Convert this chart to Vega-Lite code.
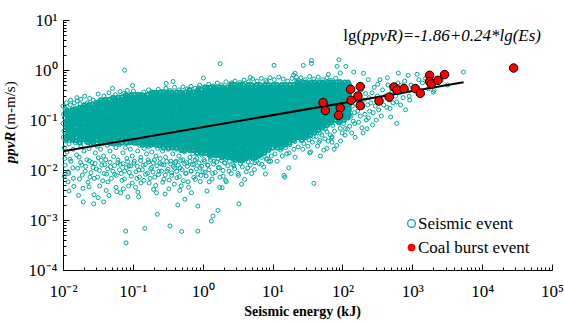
{
"$schema": "https://vega.github.io/schema/vega-lite/v6.json",
"width": 489, "height": 250,
"autosize": {"type": "none"},
"padding": {"left": 63, "top": 20, "right": 12, "bottom": 53},
"background": "white",
"config": {"view": {"stroke": null}, "font": "Liberation Serif", "legend": {"labelFont": "Liberation Serif", "labelFontSize": 17, "labelColor": "black"}},
"datasets": {
"seis": [
{"e":0.010,"p":0.19},{"e":0.010,"p":0.085},{"e":0.0101,"p":0.045},{"e":0.0102,"p":0.13},{"e":0.0103,"p":0.06},{"e":0.0104,"p":0.028},{"e":0.0105,"p":0.11},{"e":0.0106,"p":0.017},{"e":0.0108,"p":0.16},{"e":0.011,"p":0.07},{"e":0.011,"p":0.038},{"e":0.0112,"p":0.095},{"e":0.0114,"p":0.023},{"e":0.0115,"p":0.145},{"e":0.0117,"p":0.052},{"e":0.012,"p":0.0085},{"e":0.012,"p":0.12},{"e":0.0122,"p":0.033},{"e":0.0125,"p":0.078},{"e":0.0127,"p":0.2},{"e":0.013,"p":0.043},{"e":0.013,"p":0.015},{"e":0.0133,"p":0.1},{"e":0.0136,"p":0.062},{"e":0.014,"p":0.026},{"e":0.014,"p":0.135},{"e":0.0143,"p":0.0047},{"e":0.0145,"p":0.082},{"e":0.0148,"p":0.175},{"e":0.015,"p":0.035},{"e":0.0152,"p":0.056},{"e":0.0155,"p":0.11},{"e":0.0157,"p":0.02},{"e":0.0104,"p":0.0075},{"e":0.0118,"p":0.0058},{"e":0.0138,"p":0.011},{"e":0.0145,"p":0.22},{"e":0.018,"p":0.26},{"e":0.0108,"p":0.17},
{"e":0.016,"p":0.24},{"e":0.016,"p":0.09},{"e":0.0162,"p":0.04},{"e":0.0165,"p":0.15},{"e":0.0167,"p":0.065},{"e":0.017,"p":0.018},{"e":0.017,"p":0.12},{"e":0.0173,"p":0.05},{"e":0.0176,"p":0.21},{"e":0.018,"p":0.075},{"e":0.018,"p":0.03},{"e":0.0183,"p":0.105},{"e":0.0186,"p":0.0125},{"e":0.019,"p":0.17},{"e":0.019,"p":0.057},{"e":0.0193,"p":0.0043},{"e":0.0196,"p":0.088},{"e":0.02,"p":0.024},{"e":0.02,"p":0.14},{"e":0.0204,"p":0.046},{"e":0.0208,"p":0.0095},{"e":0.021,"p":0.068},{"e":0.0213,"p":0.2},{"e":0.0217,"p":0.036},{"e":0.022,"p":0.115},{"e":0.022,"p":0.016},{"e":0.0224,"p":0.08},{"e":0.0228,"p":0.0057},{"e":0.023,"p":0.155},{"e":0.0233,"p":0.053},{"e":0.0236,"p":0.027},{"e":0.024,"p":0.098},{"e":0.0243,"p":0.0072},{"e":0.0246,"p":0.13},{"e":0.0248,"p":0.042},{"e":0.0195,"p":0.0023},{"e":0.0225,"p":0.22},{"e":0.0172,"p":0.0066},
{"e":0.025,"p":0.19},{"e":0.025,"p":0.072},{"e":0.0255,"p":0.032},{"e":0.026,"p":0.125},{"e":0.026,"p":0.014},{"e":0.0265,"p":0.055},{"e":0.027,"p":0.25},{"e":0.027,"p":0.088},{"e":0.0275,"p":0.04},{"e":0.028,"p":0.16},{"e":0.028,"p":0.0068},{"e":0.0285,"p":0.065},{"e":0.029,"p":0.022},{"e":0.029,"p":0.11},{"e":0.0296,"p":0.047},{"e":0.03,"p":0.2},{"e":0.03,"p":0.0105},{"e":0.0305,"p":0.078},{"e":0.031,"p":0.03},{"e":0.031,"p":0.14},{"e":0.0316,"p":0.058},{"e":0.032,"p":0.0175},{"e":0.0322,"p":0.095},{"e":0.0328,"p":0.23},{"e":0.033,"p":0.037},{"e":0.0335,"p":0.0048},{"e":0.034,"p":0.12},{"e":0.034,"p":0.068},{"e":0.0345,"p":0.026},{"e":0.035,"p":0.17},{"e":0.0355,"p":0.05},{"e":0.036,"p":0.0125},{"e":0.036,"p":0.085},{"e":0.0366,"p":0.21},{"e":0.037,"p":0.034},{"e":0.0375,"p":0.105},{"e":0.038,"p":0.06},{"e":0.038,"p":0.019},{"e":0.0386,"p":0.145},{"e":0.039,"p":0.0085},{"e":0.0392,"p":0.044},{"e":0.0278,"p":0.0032},{"e":0.0318,"p":0.0028},{"e":0.0275,"p":0.0021},{"e":0.038,"p":0.0023},
{"e":0.04,"p":0.26},{"e":0.04,"p":0.1},{"e":0.041,"p":0.045},{"e":0.041,"p":0.016},{"e":0.042,"p":0.17},{"e":0.042,"p":0.07},{"e":0.043,"p":0.031},{"e":0.044,"p":0.125},{"e":0.044,"p":0.0058},{"e":0.045,"p":0.055},{"e":0.045,"p":0.21},{"e":0.046,"p":0.085},{"e":0.047,"p":0.024},{"e":0.047,"p":0.145},{"e":0.048,"p":0.04},{"e":0.048,"p":0.0115},{"e":0.049,"p":0.1},{"e":0.05,"p":0.065},{"e":0.05,"p":0.28},{"e":0.051,"p":0.43},{"e":0.051,"p":0.034},{"e":0.052,"p":0.18},{"e":0.052,"p":0.076},{"e":0.053,"p":0.0185},{"e":0.054,"p":0.118},{"e":0.054,"p":0.05},{"e":0.055,"p":0.0082},{"e":0.056,"p":0.23},{"e":0.056,"p":0.09},{"e":0.057,"p":0.028},{"e":0.058,"p":0.15},{"e":0.058,"p":0.06},{"e":0.059,"p":0.0037},{"e":0.06,"p":0.043},{"e":0.06,"p":0.11},{"e":0.061,"p":0.014},{"e":0.062,"p":0.2},{"e":0.062,"p":0.073},{"e":0.063,"p":0.037},{"e":0.0455,"p":0.0031},{"e":0.0575,"p":0.0045},
{"e":0.063,"p":0.18},{"e":0.064,"p":0.075},{"e":0.064,"p":0.032},{"e":0.065,"p":0.12},{"e":0.066,"p":0.013},{"e":0.066,"p":0.052},{"e":0.067,"p":0.26},{"e":0.068,"p":0.09},{"e":0.069,"p":0.04},{"e":0.07,"p":0.15},{"e":0.07,"p":0.0062},{"e":0.071,"p":0.065},{"e":0.072,"p":0.022},{"e":0.073,"p":0.105},{"e":0.074,"p":0.046},{"e":0.075,"p":0.21},{"e":0.076,"p":0.99},{"e":0.076,"p":0.0095},{"e":0.077,"p":0.08},{"e":0.078,"p":0.028},{"e":0.079,"p":0.0006},{"e":0.08,"p":0.00035},{"e":0.08,"p":0.135},{"e":0.081,"p":0.058},{"e":0.082,"p":0.017},{"e":0.083,"p":0.39},{"e":0.083,"p":0.095},{"e":0.084,"p":0.036},{"e":0.085,"p":0.175},{"e":0.086,"p":0.07},{"e":0.087,"p":0.0048},{"e":0.088,"p":0.012},{"e":0.089,"p":0.115},{"e":0.09,"p":0.05},{"e":0.091,"p":0.24},{"e":0.092,"p":0.026},{"e":0.093,"p":0.085},{"e":0.094,"p":0.155},{"e":0.095,"p":0.0075},{"e":0.096,"p":0.042},{"e":0.097,"p":0.062},{"e":0.098,"p":0.019},{"e":0.099,"p":0.49},{"e":0.0995,"p":0.13},{"e":0.067,"p":0.0035},{"e":0.085,"p":0.0029},
{"e":0.1,"p":0.2},{"e":0.1,"p":0.08},{"e":0.102,"p":0.035},{"e":0.104,"p":0.125},{"e":0.105,"p":0.015},{"e":0.106,"p":0.055},{"e":0.108,"p":0.27},{"e":0.11,"p":0.095},{"e":0.11,"p":0.043},{"e":0.112,"p":0.16},{"e":0.114,"p":0.0068},{"e":0.115,"p":0.067},{"e":0.117,"p":0.024},{"e":0.118,"p":0.11},{"e":0.12,"p":0.05},{"e":0.12,"p":0.22},{"e":0.122,"p":0.01},{"e":0.124,"p":0.085},{"e":0.125,"p":0.031},{"e":0.127,"p":0.14},{"e":0.128,"p":0.06},{"e":0.13,"p":0.018},{"e":0.132,"p":0.1},{"e":0.133,"p":0.3},{"e":0.135,"p":0.039},{"e":0.136,"p":0.072},{"e":0.138,"p":0.18},{"e":0.14,"p":0.0125},{"e":0.141,"p":0.047},{"e":0.143,"p":0.12},{"e":0.145,"p":0.027},{"e":0.146,"p":0.088},{"e":0.148,"p":0.00068},{"e":0.149,"p":0.24},{"e":0.15,"p":0.057},{"e":0.152,"p":0.0082},{"e":0.153,"p":0.15},{"e":0.155,"p":0.034},{"e":0.156,"p":0.076},{"e":0.157,"p":0.021},{"e":0.109,"p":0.0045},{"e":0.131,"p":0.0055},{"e":0.118,"p":0.0036},
{"e":0.158,"p":0.26},{"e":0.16,"p":0.1},{"e":0.161,"p":0.045},{"e":0.163,"p":0.165},{"e":0.165,"p":0.016},{"e":0.166,"p":0.068},{"e":0.168,"p":0.029},{"e":0.17,"p":0.125},{"e":0.171,"p":0.0055},{"e":0.173,"p":0.053},{"e":0.175,"p":0.21},{"e":0.177,"p":0.088},{"e":0.179,"p":0.038},{"e":0.18,"p":0.0105},{"e":0.182,"p":0.14},{"e":0.184,"p":0.062},{"e":0.186,"p":0.023},{"e":0.188,"p":0.3},{"e":0.19,"p":0.078},{"e":0.192,"p":0.045},{"e":0.194,"p":0.18},{"e":0.196,"p":0.014},{"e":0.198,"p":0.11},{"e":0.2,"p":0.033},{"e":0.202,"p":0.058},{"e":0.204,"p":0.24},{"e":0.206,"p":0.0072},{"e":0.208,"p":0.095},{"e":0.21,"p":0.04},{"e":0.212,"p":0.15},{"e":0.214,"p":0.019},{"e":0.216,"p":0.07},{"e":0.218,"p":0.0035},{"e":0.22,"p":0.36},{"e":0.222,"p":0.12},{"e":0.224,"p":0.0013},{"e":0.226,"p":0.05},{"e":0.228,"p":0.027},{"e":0.23,"p":0.2},{"e":0.233,"p":0.085},{"e":0.236,"p":0.0095},{"e":0.238,"p":0.034},{"e":0.24,"p":0.13},{"e":0.243,"p":0.063},{"e":0.246,"p":0.017},{"e":0.249,"p":0.27},
{"e":0.25,"p":0.2},{"e":0.252,"p":0.085},{"e":0.255,"p":0.037},{"e":0.258,"p":0.14},{"e":0.26,"p":0.013},{"e":0.263,"p":0.06},{"e":0.266,"p":0.024},{"e":0.27,"p":0.28},{"e":0.272,"p":0.1},{"e":0.275,"p":0.047},{"e":0.278,"p":0.0065},{"e":0.28,"p":0.17},{"e":0.283,"p":0.072},{"e":0.286,"p":0.031},{"e":0.29,"p":0.12},{"e":0.293,"p":0.018},{"e":0.296,"p":0.055},{"e":0.3,"p":0.54},{"e":0.3,"p":0.23},{"e":0.303,"p":0.088},{"e":0.307,"p":0.0095},{"e":0.31,"p":0.04},{"e":0.313,"p":0.15},{"e":0.316,"p":0.065},{"e":0.32,"p":0.026},{"e":0.323,"p":0.11},{"e":0.327,"p":0.0042},{"e":0.33,"p":0.19},{"e":0.333,"p":0.078},{"e":0.336,"p":0.035},{"e":0.34,"p":0.00076},{"e":0.343,"p":0.13},{"e":0.346,"p":0.05},{"e":0.35,"p":0.015},{"e":0.353,"p":0.3},{"e":0.357,"p":0.095},{"e":0.36,"p":0.0078},{"e":0.363,"p":0.043},{"e":0.367,"p":0.165},{"e":0.37,"p":0.068},{"e":0.373,"p":0.021},{"e":0.376,"p":0.59},{"e":0.38,"p":0.115},{"e":0.383,"p":0.029},{"e":0.387,"p":0.25},{"e":0.39,"p":0.058},{"e":0.394,"p":0.011},{"e":0.397,"p":0.082},
{"e":0.4,"p":0.21},{"e":0.403,"p":0.09},{"e":0.406,"p":0.039},{"e":0.41,"p":0.15},{"e":0.413,"p":0.015},{"e":0.417,"p":0.064},{"e":0.42,"p":0.026},{"e":0.424,"p":0.12},{"e":0.428,"p":0.007},{"e":0.432,"p":0.052},{"e":0.436,"p":0.27},{"e":0.44,"p":0.002},{"e":0.44,"p":0.1},{"e":0.444,"p":0.044},{"e":0.448,"p":0.18},{"e":0.452,"p":0.077},{"e":0.456,"p":0.019},{"e":0.46,"p":0.135},{"e":0.464,"p":0.033},{"e":0.468,"p":0.06},{"e":0.472,"p":0.011},{"e":0.476,"p":0.23},{"e":0.48,"p":0.088},{"e":0.484,"p":0.048},{"e":0.488,"p":0.16},{"e":0.492,"p":0.0048},{"e":0.496,"p":0.07},{"e":0.5,"p":0.00059},{"e":0.5,"p":0.028},{"e":0.505,"p":0.11},{"e":0.51,"p":0.04},{"e":0.515,"p":0.2},{"e":0.52,"p":0.016},{"e":0.525,"p":0.082},{"e":0.53,"p":0.055},{"e":0.535,"p":0.3},{"e":0.54,"p":0.125},{"e":0.545,"p":0.023},{"e":0.55,"p":0.065},{"e":0.556,"p":0.0026},{"e":0.56,"p":0.17},{"e":0.565,"p":0.036},{"e":0.57,"p":0.0085},{"e":0.575,"p":0.095},{"e":0.58,"p":0.046},{"e":0.585,"p":0.25},{"e":0.59,"p":0.014},{"e":0.595,"p":0.14},{"e":0.6,"p":0.075},{"e":0.606,"p":0.03},{"e":0.612,"p":0.19},{"e":0.618,"p":0.0058},{"e":0.624,"p":0.105},{"e":0.63,"p":0.05},
{"e":0.63,"p":0.22},{"e":0.636,"p":0.087},{"e":0.642,"p":0.038},{"e":0.648,"p":0.145},{"e":0.654,"p":0.018},{"e":0.66,"p":0.062},{"e":0.666,"p":0.027},{"e":0.672,"p":0.115},{"e":0.678,"p":0.0095},{"e":0.684,"p":0.05},{"e":0.69,"p":0.28},{"e":0.696,"p":0.1},{"e":0.702,"p":0.042},{"e":0.71,"p":0.175},{"e":0.716,"p":0.072},{"e":0.722,"p":0.021},{"e":0.73,"p":0.13},{"e":0.736,"p":0.033},{"e":0.742,"p":0.058},{"e":0.75,"p":0.013},{"e":0.756,"p":0.24},{"e":0.762,"p":0.09},{"e":0.77,"p":0.047},{"e":0.776,"p":0.16},{"e":0.784,"p":0.0065},{"e":0.79,"p":0.078},{"e":0.8,"p":0.03},{"e":0.806,"p":0.12},{"e":0.814,"p":0.055},{"e":0.82,"p":0.017},{"e":0.83,"p":0.21},{"e":0.836,"p":0.085},{"e":0.845,"p":0.039},{"e":0.85,"p":0.0006},{"e":0.852,"p":0.0019},{"e":0.86,"p":0.14},{"e":0.868,"p":0.068},{"e":0.876,"p":0.024},{"e":0.884,"p":0.31},{"e":0.892,"p":0.105},{"e":0.9,"p":0.045},{"e":0.91,"p":0.011},{"e":0.918,"p":0.185},{"e":0.926,"p":0.075},{"e":0.934,"p":0.034},{"e":0.942,"p":0.0078},{"e":0.95,"p":0.125},{"e":0.958,"p":0.06},{"e":0.966,"p":0.02},{"e":0.975,"p":0.26},{"e":0.984,"p":0.095},{"e":0.992,"p":0.041},{"e":0.87,"p":0.44},
{"e":1.0,"p":0.2},{"e":1.01,"p":0.08},{"e":1.02,"p":0.036},{"e":1.03,"p":0.15},{"e":1.04,"p":0.016},{"e":1.05,"p":0.058},{"e":1.06,"p":0.025},{"e":1.07,"p":0.12},{"e":1.08,"p":0.009},{"e":1.09,"p":0.048},{"e":1.1,"p":0.27},{"e":1.11,"p":0.1},{"e":1.12,"p":0.043},{"e":1.13,"p":0.18},{"e":1.14,"p":0.068},{"e":1.15,"p":0.021},{"e":1.16,"p":0.135},{"e":1.17,"p":0.031},{"e":1.18,"p":0.056},{"e":1.19,"p":0.0125},{"e":1.2,"p":0.23},{"e":1.21,"p":0.088},{"e":1.22,"p":0.046},{"e":1.23,"p":0.16},{"e":1.24,"p":0.0058},{"e":1.25,"p":0.075},{"e":1.26,"p":0.028},{"e":1.27,"p":0.11},{"e":1.28,"p":0.052},{"e":1.29,"p":0.018},{"e":1.3,"p":0.33},{"e":1.31,"p":0.2},{"e":1.32,"p":0.082},{"e":1.33,"p":0.00095},{"e":1.34,"p":0.038},{"e":1.35,"p":0.14},{"e":1.36,"p":0.064},{"e":1.37,"p":0.023},{"e":1.38,"p":0.095},{"e":1.39,"p":0.0085},{"e":1.4,"p":0.0012},{"e":1.41,"p":0.25},{"e":1.42,"p":0.044},{"e":1.43,"p":0.12},{"e":1.44,"p":0.07},{"e":1.45,"p":0.015},{"e":1.46,"p":0.17},{"e":1.47,"p":0.033},{"e":1.48,"p":0.058},{"e":1.5,"p":0.105},{"e":1.51,"p":0.027},{"e":1.52,"p":0.22},{"e":1.54,"p":0.079},{"e":1.55,"p":0.04},{"e":1.57,"p":0.13},{"e":1.02,"p":0.69},
{"e":1.58,"p":0.21},{"e":1.6,"p":0.085},{"e":1.62,"p":0.037},{"e":1.64,"p":0.15},{"e":1.65,"p":0.00155},{"e":1.66,"p":0.017},{"e":1.68,"p":0.062},{"e":1.7,"p":0.026},{"e":1.72,"p":0.12},{"e":1.74,"p":0.011},{"e":1.76,"p":0.05},{"e":1.78,"p":0.28},{"e":1.78,"p":1.34},{"e":1.8,"p":0.1},{"e":1.82,"p":0.043},{"e":1.84,"p":0.18},{"e":1.86,"p":0.072},{"e":1.88,"p":0.02},{"e":1.9,"p":0.135},{"e":1.92,"p":0.032},{"e":1.94,"p":0.058},{"e":1.96,"p":0.0075},{"e":1.98,"p":0.24},{"e":2.0,"p":0.09},{"e":2.02,"p":0.047},{"e":2.05,"p":0.165},{"e":2.07,"p":0.014},{"e":2.1,"p":0.078},{"e":2.12,"p":0.03},{"e":2.15,"p":0.115},{"e":2.17,"p":0.054},{"e":2.2,"p":0.022},{"e":2.22,"p":0.35},{"e":2.25,"p":0.2},{"e":2.27,"p":0.085},{"e":2.3,"p":0.04},{"e":2.33,"p":0.14},{"e":2.35,"p":0.066},{"e":2.38,"p":0.0095},{"e":2.4,"p":0.1},{"e":2.42,"p":0.028},{"e":2.45,"p":0.25},{"e":2.48,"p":0.048},{"e":2.5,"p":0.16},{"e":1.75,"p":0.0045},{"e":2.13,"p":0.0062},
{"e":2.52,"p":0.22},{"e":2.55,"p":0.09},{"e":2.58,"p":0.04},{"e":2.6,"p":0.55},{"e":2.62,"p":0.155},{"e":2.65,"p":0.018},{"e":2.68,"p":0.064},{"e":2.72,"p":0.028},{"e":2.76,"p":0.125},{"e":2.8,"p":0.012},{"e":2.83,"p":0.052},{"e":2.87,"p":0.29},{"e":2.9,"p":0.105},{"e":2.94,"p":0.045},{"e":2.97,"p":0.19},{"e":3.0,"p":0.075},{"e":3.04,"p":0.023},{"e":3.08,"p":0.14},{"e":3.12,"p":0.034},{"e":3.16,"p":0.06},{"e":3.2,"p":0.0085},{"e":3.24,"p":0.25},{"e":3.28,"p":0.095},{"e":3.3,"p":0.0021},{"e":3.32,"p":0.049},{"e":3.36,"p":0.17},{"e":3.4,"p":0.08},{"e":3.44,"p":0.02},{"e":3.48,"p":0.12},{"e":3.52,"p":0.038},{"e":3.56,"p":0.067},{"e":3.6,"p":0.015},{"e":3.64,"p":0.32},{"e":3.68,"p":0.21},{"e":3.72,"p":0.088},{"e":3.76,"p":0.042},{"e":3.8,"p":0.145},{"e":3.85,"p":0.056},{"e":3.9,"p":0.026},{"e":3.95,"p":0.11},{"e":3.99,"p":0.0065},
{"e":4.0,"p":0.2},{"e":4.05,"p":0.085},{"e":4.1,"p":0.038},{"e":4.15,"p":0.15},{"e":4.2,"p":0.017},{"e":4.25,"p":0.063},{"e":4.3,"p":0.028},{"e":4.35,"p":0.12},{"e":4.4,"p":0.011},{"e":4.45,"p":0.053},{"e":4.5,"p":0.3},{"e":4.55,"p":0.1},{"e":4.6,"p":0.045},{"e":4.65,"p":0.18},{"e":4.7,"p":0.074},{"e":4.76,"p":0.022},{"e":4.8,"p":0.71},{"e":4.82,"p":0.135},{"e":4.88,"p":0.034},{"e":4.94,"p":0.06},{"e":5.0,"p":0.0085},{"e":5.06,"p":0.24},{"e":5.12,"p":0.092},{"e":5.18,"p":0.048},{"e":5.24,"p":0.165},{"e":5.3,"p":0.078},{"e":5.36,"p":0.025},{"e":5.42,"p":0.115},{"e":5.48,"p":0.04},{"e":5.54,"p":0.068},{"e":5.6,"p":0.014},{"e":5.66,"p":0.38},{"e":5.72,"p":0.21},{"e":5.78,"p":0.088},{"e":5.84,"p":0.052},{"e":5.9,"p":0.14},{"e":5.96,"p":0.031},{"e":6.02,"p":0.07},{"e":6.08,"p":0.019},{"e":6.14,"p":0.26},{"e":6.2,"p":0.1},{"e":6.26,"p":0.042},
{"e":6.3,"p":0.22},{"e":6.38,"p":0.09},{"e":6.46,"p":0.042},{"e":6.54,"p":0.16},{"e":6.62,"p":0.02},{"e":6.7,"p":0.066},{"e":6.8,"p":0.03},{"e":6.9,"p":0.125},{"e":7.0,"p":0.013},{"e":7.1,"p":0.056},{"e":7.2,"p":0.31},{"e":7.3,"p":0.105},{"e":7.4,"p":0.047},{"e":7.5,"p":0.19},{"e":7.6,"p":0.078},{"e":7.7,"p":0.024},{"e":7.8,"p":0.14},{"e":7.9,"p":0.0083},{"e":8.0,"p":0.037},{"e":8.1,"p":0.062},{"e":8.2,"p":0.25},{"e":8.3,"p":0.58},{"e":8.3,"p":0.095},{"e":8.4,"p":0.017},{"e":8.5,"p":0.05},{"e":8.6,"p":0.17},{"e":8.7,"p":0.082},{"e":8.8,"p":0.028},{"e":8.9,"p":0.118},{"e":9.0,"p":0.044},{"e":9.1,"p":0.07},{"e":9.2,"p":0.4},{"e":9.3,"p":0.215},{"e":9.4,"p":0.015},{"e":9.5,"p":0.09},{"e":9.6,"p":0.055},{"e":9.7,"p":0.15},{"e":9.8,"p":0.033},{"e":9.9,"p":0.075},
{"e":10.0,"p":0.2},{"e":10.2,"p":0.088},{"e":10.4,"p":0.04},{"e":10.5,"p":1.24},{"e":10.6,"p":0.15},{"e":10.8,"p":0.021},{"e":11.0,"p":0.065},{"e":11.2,"p":0.03},{"e":11.4,"p":0.12},{"e":11.6,"p":0.015},{"e":11.8,"p":0.055},{"e":12.0,"p":0.29},{"e":12.2,"p":0.1},{"e":12.4,"p":0.047},{"e":12.6,"p":0.18},{"e":12.8,"p":0.075},{"e":13.0,"p":0.025},{"e":13.2,"p":0.135},{"e":13.4,"p":0.036},{"e":13.6,"p":0.06},{"e":13.8,"p":0.019},{"e":14.0,"p":0.24},{"e":14.2,"p":0.092},{"e":14.5,"p":0.0078},{"e":14.6,"p":0.05},{"e":14.8,"p":0.165},{"e":15.0,"p":0.0072},{"e":15.1,"p":0.08},{"e":15.4,"p":0.028},{"e":15.6,"p":0.11},{"e":15.8,"p":0.042},{"e":11.1,"p":0.36},{"e":12.9,"p":0.43},{"e":14.4,"p":0.07},
{"e":16.0,"p":0.21},{"e":16.3,"p":0.09},{"e":16.6,"p":0.042},{"e":16.9,"p":0.155},{"e":17.2,"p":0.022},{"e":17.5,"p":0.068},{"e":17.8,"p":0.032},{"e":18.1,"p":0.125},{"e":18.4,"p":0.05},{"e":18.7,"p":0.3},{"e":19.0,"p":0.105},{"e":19.3,"p":0.046},{"e":19.6,"p":0.19},{"e":19.9,"p":0.078},{"e":20.0,"p":0.79},{"e":20.2,"p":0.026},{"e":20.5,"p":0.14},{"e":20.8,"p":0.037},{"e":21.0,"p":0.018},{"e":21.0,"p":0.86},{"e":21.2,"p":0.06},{"e":21.5,"p":0.25},{"e":21.8,"p":0.095},{"e":22.0,"p":0.71},{"e":22.1,"p":0.053},{"e":22.4,"p":0.17},{"e":22.8,"p":0.082},{"e":23.2,"p":0.029},{"e":23.6,"p":0.118},{"e":24.0,"p":0.044},{"e":24.4,"p":0.072},{"e":24.8,"p":0.4},{"e":17.0,"p":0.011},{"e":23.0,"p":0.22},{"e":16.0,"p":0.021},
{"e":25.0,"p":0.22},{"e":25.5,"p":0.092},{"e":26.0,"p":0.045},{"e":26.5,"p":0.16},{"e":27.0,"p":0.026},{"e":27.5,"p":0.07},{"e":27.5,"p":1.24},{"e":28.0,"p":0.034},{"e":28.5,"p":0.13},{"e":29.0,"p":0.052},{"e":29.5,"p":0.32},{"e":30.0,"p":0.11},{"e":30.5,"p":0.048},{"e":31.0,"p":0.2},{"e":31.5,"p":0.08},{"e":32.0,"p":0.03},{"e":32.5,"p":0.145},{"e":33.0,"p":0.04},{"e":33.5,"p":0.063},{"e":34.0,"p":0.022},{"e":34.5,"p":0.26},{"e":35.0,"p":0.098},{"e":35.0,"p":0.023},{"e":35.5,"p":0.056},{"e":36.0,"p":0.175},{"e":36.0,"p":1.55},{"e":36.0,"p":1.35},{"e":36.6,"p":0.086},{"e":37.2,"p":0.036},{"e":37.8,"p":0.12},{"e":38.4,"p":0.047},{"e":39.0,"p":0.0054},{"e":39.2,"p":0.075},{"e":28.2,"p":0.42},{"e":33.2,"p":0.23},
{"e":40,"p":0.23},{"e":41,"p":0.095},{"e":42,"p":0.047},{"e":43,"p":0.165},{"e":44,"p":0.03},{"e":45,"p":0.072},{"e":46,"p":0.036},{"e":47,"p":0.135},{"e":47.5,"p":0.039},{"e":48,"p":0.055},{"e":49,"p":0.33},{"e":50,"p":0.115},{"e":51,"p":0.05},{"e":52,"p":0.2},{"e":53,"p":0.083},{"e":54,"p":0.025},{"e":55,"p":0.15},{"e":56,"p":0.042},{"e":57,"p":0.066},{"e":58,"p":0.27},{"e":59,"p":0.1},{"e":60,"p":0.058},{"e":60,"p":0.027},{"e":61,"p":0.18},{"e":62,"p":0.088},{"e":62.5,"p":0.038},{"e":45.5,"p":0.45},{"e":55.5,"p":0.5},{"e":48.5,"p":0.019},
{"e":63,"p":0.25},{"e":63,"p":0.82},{"e":65,"p":0.1},{"e":67,"p":0.05},{"e":69,"p":0.18},{"e":70,"p":0.044},{"e":71,"p":0.036},{"e":71,"p":0.046},{"e":73,"p":0.078},{"e":75,"p":0.14},{"e":77,"p":0.06},{"e":79,"p":0.35},{"e":81,"p":0.12},{"e":83,"p":0.031},{"e":84,"p":1.18},{"e":85,"p":0.22},{"e":87,"p":0.09},{"e":89,"p":1.6},{"e":91,"p":0.16},{"e":93,"p":0.87},{"e":93,"p":0.068},{"e":95,"p":0.28},{"e":97,"p":0.105},{"e":99,"p":0.055},{"e":70,"p":0.47},{"e":88,"p":0.4},{"e":76,"p":0.026},{"e":94,"p":0.038},
{"e":100,"p":0.2},{"e":103,"p":0.085},{"e":106,"p":0.14},{"e":109,"p":0.05},{"e":110,"p":0.067},{"e":112,"p":1.18},{"e":112,"p":0.3},{"e":115,"p":0.11},{"e":118,"p":0.065},{"e":121,"p":0.23},{"e":124,"p":0.16},{"e":127,"p":0.075},{"e":130,"p":0.38},{"e":133,"p":0.12},{"e":136,"p":0.055},{"e":139,"p":0.19},{"e":142,"p":0.095},{"e":145,"p":0.91},{"e":146,"p":0.27},{"e":149,"p":0.14},{"e":152,"p":0.045},{"e":155,"p":0.21},{"e":104,"p":0.42},{"e":125,"p":0.5},{"e":150,"p":0.085},
{"e":160,"p":0.3},{"e":165,"p":0.15},{"e":170,"p":0.09},{"e":175,"p":0.22},{"e":180,"p":0.12},{"e":185,"p":0.4},{"e":190,"p":0.07},{"e":195,"p":0.18},{"e":200,"p":0.86},{"e":205,"p":0.25},{"e":210,"p":0.13},{"e":215,"p":0.34},{"e":220,"p":0.1},{"e":225,"p":0.067},{"e":230,"p":0.2},{"e":235,"p":0.11},{"e":235,"p":0.64},{"e":240,"p":0.28},{"e":245,"p":0.15},{"e":172,"p":0.5},{"e":198,"p":0.055},
{"e":255,"p":0.22},{"e":265,"p":0.35},{"e":275,"p":0.14},{"e":285,"p":0.45},{"e":295,"p":0.19},{"e":305,"p":0.1},{"e":315,"p":0.3},{"e":330,"p":0.16},{"e":345,"p":0.64},{"e":345,"p":0.25},{"e":360,"p":0.12},{"e":375,"p":0.4},{"e":390,"p":0.2},{"e":270,"p":0.08},{"e":320,"p":0.52},
{"e":410,"p":0.3},{"e":430,"p":0.18},{"e":450,"p":0.5},{"e":470,"p":0.25},{"e":480,"p":0.17},{"e":490,"p":0.115},{"e":510,"p":0.38},{"e":530,"p":0.22},{"e":560,"p":0.45},{"e":580,"p":0.3},{"e":600,"p":0.23},{"e":600,"p":0.085},{"e":620,"p":0.55},{"e":440,"p":0.7},
{"e":630,"p":0.87},{"e":660,"p":0.35},{"e":700,"p":0.5},{"e":740,"p":0.28},{"e":780,"p":0.6},{"e":800,"p":0.16},{"e":830,"p":0.4},{"e":870,"p":0.78},{"e":900,"p":0.3},{"e":920,"p":0.25},{"e":960,"p":0.5},{"e":680,"p":0.2},
{"e":1050,"p":0.45},{"e":1170,"p":0.82},{"e":1240,"p":0.64},{"e":1300,"p":0.35},{"e":1400,"p":0.55},{"e":1550,"p":0.68},{"e":1700,"p":0.42},{"e":2000,"p":0.36},{"e":2050,"p":0.39},{"e":2300,"p":0.6},{"e":2600,"p":0.62},{"e":3200,"p":0.5},{"e":5400,"p":0.91},
{"e":0.0107,"p":0.0125},{"e":0.0119,"p":0.0092},{"e":0.0126,"p":0.0165},{"e":0.0141,"p":0.0068},{"e":0.0162,"p":0.0108},{"e":0.0178,"p":0.0142},{"e":0.0189,"p":0.0079},{"e":0.0211,"p":0.0118},{"e":0.0238,"p":0.0152},{"e":0.0251,"p":0.0088},{"e":0.0269,"p":0.0112},{"e":0.0288,"p":0.0135},{"e":0.0312,"p":0.0072},{"e":0.0331,"p":0.0098},{"e":0.0352,"p":0.0155},{"e":0.0371,"p":0.0061},{"e":0.0395,"p":0.0128},{"e":0.0421,"p":0.0083},{"e":0.0438,"p":0.0105},{"e":0.0472,"p":0.0142},{"e":0.0491,"p":0.0068},{"e":0.0518,"p":0.0094},{"e":0.0546,"p":0.0123},{"e":0.0581,"p":0.0078},{"e":0.0612,"p":0.0158},{"e":0.0645,"p":0.0101},{"e":0.0681,"p":0.0085},{"e":0.0722,"p":0.0134},{"e":0.0758,"p":0.0066},{"e":0.0805,"p":0.0112},{"e":0.0841,"p":0.0148},{"e":0.0889,"p":0.0089},{"e":0.0938,"p":0.0121},{"e":0.0981,"p":0.0055},{"e":0.103,"p":0.0138},{"e":0.111,"p":0.0092},{"e":0.116,"p":0.0118},{"e":0.124,"p":0.0072},{"e":0.129,"p":0.0155},{"e":0.137,"p":0.0101},{"e":0.144,"p":0.0062},{"e":0.151,"p":0.0129},{"e":0.162,"p":0.0086},{"e":0.169,"p":0.0145},{"e":0.177,"p":0.0068},{"e":0.185,"p":0.0112},{"e":0.195,"p":0.0091},{"e":0.203,"p":0.0158},{"e":0.213,"p":0.0049},{"e":0.221,"p":0.0122},{"e":0.232,"p":0.0081},{"e":0.245,"p":0.0138},{"e":0.256,"p":0.0095},{"e":0.268,"p":0.0057},{"e":0.279,"p":0.0126},{"e":0.291,"p":0.0079},{"e":0.305,"p":0.0149},{"e":0.318,"p":0.0104},{"e":0.331,"p":0.0063},{"e":0.348,"p":0.0132},{"e":0.361,"p":0.0088},{"e":0.378,"p":0.0118},{"e":0.392,"p":0.0052},{"e":0.409,"p":0.0141},{"e":0.426,"p":0.0094},{"e":0.447,"p":0.0125},{"e":0.463,"p":0.0074},{"e":0.486,"p":0.0155},{"e":0.507,"p":0.0102},{"e":0.528,"p":0.0061},{"e":0.552,"p":0.0133},{"e":0.577,"p":0.0086},{"e":0.603,"p":0.0118},{"e":0.627,"p":0.0045},{"e":0.655,"p":0.0149},{"e":0.683,"p":0.0095},{"e":0.712,"p":0.0128},{"e":0.745,"p":0.0071},{"e":0.778,"p":0.0158},{"e":0.811,"p":0.0105},{"e":0.848,"p":0.0082},{"e":0.884,"p":0.0139},{"e":0.923,"p":0.0059},{"e":0.965,"p":0.0119},{"e":1.01,"p":0.0092},{"e":1.06,"p":0.0148},{"e":1.12,"p":0.0076},{"e":1.17,"p":0.0125},{"e":1.23,"p":0.0101},{"e":1.29,"p":0.0158},{"e":1.36,"p":0.0066},{"e":1.43,"p":0.0132},{"e":1.51,"p":0.0089},{"e":1.58,"p":0.0145},{"e":1.67,"p":0.0112},{"e":1.76,"p":0.0072},{"e":1.85,"p":0.0155},{"e":1.95,"p":0.0098},{"e":2.06,"p":0.0138},{"e":2.17,"p":0.0058},{"e":2.29,"p":0.0121},{"e":2.42,"p":0.0149},{"e":2.56,"p":0.0085},{"e":2.71,"p":0.0128},{"e":2.87,"p":0.0105},{"e":3.05,"p":0.0158},{"e":3.25,"p":0.0078},{"e":3.46,"p":0.0135},{"e":3.69,"p":0.0115},{"e":3.94,"p":0.0162},{"e":4.2,"p":0.0092},{"e":4.48,"p":0.0145},{"e":4.8,"p":0.0125},{"e":5.15,"p":0.0168},{"e":5.5,"p":0.0102},{"e":5.9,"p":0.0152},{"e":6.4,"p":0.0135},{"e":6.9,"p":0.0178},{"e":7.5,"p":0.0115},{"e":8.1,"p":0.0165},{"e":8.9,"p":0.0148},{"e":9.6,"p":0.019},
{"e":0.0122,"p":0.0038},{"e":0.0167,"p":0.0031},{"e":0.0236,"p":0.0046},{"e":0.0415,"p":0.0039},{"e":0.073,"p":0.0042},{"e":0.121,"p":0.0029},{"e":0.198,"p":0.0041},{"e":0.29,"p":0.0033},{"e":0.47,"p":0.0039},{"e":0.69,"p":0.0035},{"e":1.15,"p":0.0038},{"e":1.9,"p":0.0044},{"e":3.6,"p":0.0052},
{"e":0.0112,"p":0.22},{"e":0.0128,"p":0.25},{"e":0.0158,"p":0.28},{"e":0.0205,"p":0.3},{"e":0.0241,"p":0.27},{"e":0.0318,"p":0.33},{"e":0.0385,"p":0.3},{"e":0.0455,"p":0.35},{"e":0.0562,"p":0.32},{"e":0.0655,"p":0.37},{"e":0.0742,"p":0.34},{"e":0.0875,"p":0.3},{"e":0.102,"p":0.38},{"e":0.117,"p":0.33},{"e":0.143,"p":0.36},{"e":0.168,"p":0.4},{"e":0.196,"p":0.35},{"e":0.231,"p":0.41},{"e":0.262,"p":0.37},{"e":0.298,"p":0.43},{"e":0.341,"p":0.39},{"e":0.395,"p":0.45},{"e":0.455,"p":0.4},{"e":0.52,"p":0.46},{"e":0.6,"p":0.42},{"e":0.68,"p":0.47},{"e":0.78,"p":0.43},{"e":0.9,"p":0.5},{"e":1.05,"p":0.46},{"e":1.22,"p":0.52},{"e":1.4,"p":0.48},{"e":1.62,"p":0.55},{"e":1.88,"p":0.5},{"e":2.15,"p":0.58},{"e":2.5,"p":0.53},{"e":2.9,"p":0.6},{"e":3.4,"p":0.56},{"e":3.9,"p":0.63},{"e":4.5,"p":0.58},{"e":5.2,"p":0.66},{"e":6.0,"p":0.6},{"e":6.9,"p":0.68},{"e":8.0,"p":0.62},{"e":9.2,"p":0.7},{"e":10.6,"p":0.64},{"e":12.3,"p":0.72},{"e":14.2,"p":0.66},{"e":16.4,"p":0.6},{"e":19,"p":0.68},{"e":22,"p":0.62},{"e":25.5,"p":0.7},{"e":29.5,"p":0.64},{"e":34,"p":0.74},{"e":39,"p":0.66},{"e":45,"p":0.72},{"e":52,"p":0.64},{"e":60,"p":0.7},{"e":69,"p":0.62},{"e":80,"p":0.68},{"e":92,"p":0.6}
],
"core": [
{"e":0.0115,"p":0.155},{"e":0.0113,"p":0.128},{"e":0.0116,"p":0.101},{"e":0.0114,"p":0.078},{"e":0.0117,"p":0.064},{"e":0.0115,"p":0.049},{"e":0.0112,"p":0.041},
{"e":0.0132,"p":0.143},{"e":0.0134,"p":0.11},{"e":0.013,"p":0.09},{"e":0.0133,"p":0.07},{"e":0.0131,"p":0.057},{"e":0.0135,"p":0.044},
{"e":0.0151,"p":0.16},{"e":0.0149,"p":0.124},{"e":0.0153,"p":0.099},{"e":0.015,"p":0.08},{"e":0.0152,"p":0.062},{"e":0.0148,"p":0.051},{"e":0.0154,"p":0.039},
{"e":0.0174,"p":0.176},{"e":0.0172,"p":0.143},{"e":0.0176,"p":0.113},{"e":0.0173,"p":0.088},{"e":0.0175,"p":0.072},{"e":0.0171,"p":0.055},{"e":0.0177,"p":0.046},{"e":0.0174,"p":0.035},
{"e":0.02,"p":0.198},{"e":0.0198,"p":0.16},{"e":0.0202,"p":0.125},{"e":0.0199,"p":0.102},{"e":0.0201,"p":0.078},{"e":0.0197,"p":0.064},{"e":0.0203,"p":0.049},{"e":0.02,"p":0.041},
{"e":0.0229,"p":0.18},{"e":0.0227,"p":0.14},{"e":0.0231,"p":0.111},{"e":0.0228,"p":0.09},{"e":0.023,"p":0.07},{"e":0.0226,"p":0.057},{"e":0.0232,"p":0.044},{"e":0.0229,"p":0.036},
{"e":0.0263,"p":0.203},{"e":0.0261,"p":0.156},{"e":0.0265,"p":0.127},{"e":0.0262,"p":0.098},{"e":0.0264,"p":0.08},{"e":0.026,"p":0.062},{"e":0.0266,"p":0.051},{"e":0.0263,"p":0.039},
{"e":0.0302,"p":0.222},{"e":0.03,"p":0.18},{"e":0.0305,"p":0.139},{"e":0.0301,"p":0.113},{"e":0.0304,"p":0.088},{"e":0.0299,"p":0.072},{"e":0.0303,"p":0.055},{"e":0.0302,"p":0.046},{"e":0.0306,"p":0.034},
{"e":0.0347,"p":0.248},{"e":0.0344,"p":0.202},{"e":0.035,"p":0.157},{"e":0.0346,"p":0.128},{"e":0.0349,"p":0.099},{"e":0.0343,"p":0.081},{"e":0.0348,"p":0.062},{"e":0.0345,"p":0.05},{"e":0.0351,"p":0.041},
{"e":0.0398,"p":0.226},{"e":0.0395,"p":0.176},{"e":0.0401,"p":0.142},{"e":0.0397,"p":0.11},{"e":0.04,"p":0.09},{"e":0.0394,"p":0.07},{"e":0.0399,"p":0.057},{"e":0.0396,"p":0.044},{"e":0.0402,"p":0.036},
{"e":0.0457,"p":0.253},{"e":0.0457,"p":0.198},{"e":0.0457,"p":0.16},{"e":0.0457,"p":0.125},{"e":0.0457,"p":0.101},{"e":0.0457,"p":0.078},{"e":0.0457,"p":0.064},{"e":0.0457,"p":0.049},{"e":0.0457,"p":0.04},
{"e":0.0525,"p":0.28},{"e":0.0525,"p":0.227},{"e":0.0525,"p":0.177},{"e":0.0525,"p":0.143},{"e":0.0525,"p":0.111},{"e":0.0525,"p":0.09},{"e":0.0525,"p":0.07},{"e":0.0525,"p":0.057},{"e":0.0525,"p":0.045},{"e":0.0525,"p":0.034},
{"e":0.0603,"p":0.25},{"e":0.0603,"p":0.201},{"e":0.0603,"p":0.159},{"e":0.0603,"p":0.124},{"e":0.0603,"p":0.1},{"e":0.0603,"p":0.08},{"e":0.0603,"p":0.062},{"e":0.0603,"p":0.051},{"e":0.0603,"p":0.039},
{"e":0.0692,"p":0.284},{"e":0.0692,"p":0.222},{"e":0.0692,"p":0.179},{"e":0.0692,"p":0.14},{"e":0.0692,"p":0.113},{"e":0.0692,"p":0.088},{"e":0.0692,"p":0.072},{"e":0.0692,"p":0.055},{"e":0.0692,"p":0.046},{"e":0.0692,"p":0.035},
{"e":0.0794,"p":0.312},{"e":0.0794,"p":0.254},{"e":0.0794,"p":0.199},{"e":0.0794,"p":0.16},{"e":0.0794,"p":0.125},{"e":0.0794,"p":0.099},{"e":0.0794,"p":0.08},{"e":0.0794,"p":0.063},{"e":0.0794,"p":0.049},{"e":0.0794,"p":0.041},
{"e":0.0912,"p":0.281},{"e":0.0912,"p":0.225},{"e":0.0912,"p":0.176},{"e":0.0912,"p":0.142},{"e":0.0912,"p":0.11},{"e":0.0912,"p":0.091},{"e":0.0912,"p":0.07},{"e":0.0912,"p":0.056},{"e":0.0912,"p":0.044},{"e":0.0912,"p":0.036},
{"e":0.105,"p":0.318},{"e":0.105,"p":0.249},{"e":0.105,"p":0.202},{"e":0.105,"p":0.157},{"e":0.105,"p":0.127},{"e":0.105,"p":0.098},{"e":0.105,"p":0.079},{"e":0.105,"p":0.064},{"e":0.105,"p":0.05},{"e":0.105,"p":0.04},
{"e":0.12,"p":0.283},{"e":0.12,"p":0.223},{"e":0.12,"p":0.18},{"e":0.12,"p":0.139},{"e":0.12,"p":0.112},{"e":0.12,"p":0.089},{"e":0.12,"p":0.072},{"e":0.12,"p":0.056},{"e":0.12,"p":0.045},{"e":0.12,"p":0.035},
{"e":0.138,"p":0.314},{"e":0.138,"p":0.252},{"e":0.138,"p":0.198},{"e":0.138,"p":0.159},{"e":0.138,"p":0.125},{"e":0.138,"p":0.101},{"e":0.138,"p":0.078},{"e":0.138,"p":0.063},{"e":0.138,"p":0.05},{"e":0.138,"p":0.04},{"e":0.138,"p":0.032},
{"e":0.158,"p":0.28},{"e":0.158,"p":0.226},{"e":0.158,"p":0.177},{"e":0.158,"p":0.142},{"e":0.158,"p":0.113},{"e":0.158,"p":0.088},{"e":0.158,"p":0.071},{"e":0.158,"p":0.057},{"e":0.158,"p":0.044},{"e":0.158,"p":0.035},
{"e":0.182,"p":0.317},{"e":0.182,"p":0.25},{"e":0.182,"p":0.201},{"e":0.182,"p":0.157},{"e":0.182,"p":0.127},{"e":0.182,"p":0.099},{"e":0.182,"p":0.08},{"e":0.182,"p":0.062},{"e":0.182,"p":0.051},{"e":0.182,"p":0.039},{"e":0.182,"p":0.032},
{"e":0.209,"p":0.352},{"e":0.209,"p":0.284},{"e":0.209,"p":0.222},{"e":0.209,"p":0.18},{"e":0.209,"p":0.14},{"e":0.209,"p":0.111},{"e":0.209,"p":0.09},{"e":0.209,"p":0.07},{"e":0.209,"p":0.057},{"e":0.209,"p":0.045},{"e":0.209,"p":0.036},
{"e":0.24,"p":0.315},{"e":0.24,"p":0.253},{"e":0.24,"p":0.199},{"e":0.24,"p":0.16},{"e":0.24,"p":0.124},{"e":0.24,"p":0.1},{"e":0.24,"p":0.079},{"e":0.24,"p":0.064},{"e":0.24,"p":0.049},{"e":0.24,"p":0.041},{"e":0.24,"p":0.031},
{"e":0.275,"p":0.357},{"e":0.275,"p":0.28},{"e":0.275,"p":0.225},{"e":0.275,"p":0.177},{"e":0.275,"p":0.142},{"e":0.275,"p":0.113},{"e":0.275,"p":0.088},{"e":0.275,"p":0.072},{"e":0.275,"p":0.055},{"e":0.275,"p":0.045},{"e":0.275,"p":0.035},{"e":0.275,"p":0.028},
{"e":0.316,"p":0.319},{"e":0.316,"p":0.249},{"e":0.316,"p":0.2},{"e":0.316,"p":0.158},{"e":0.316,"p":0.128},{"e":0.316,"p":0.099},{"e":0.316,"p":0.08},{"e":0.316,"p":0.062},{"e":0.316,"p":0.05},{"e":0.316,"p":0.04},{"e":0.316,"p":0.032},
{"e":0.363,"p":0.354},{"e":0.363,"p":0.283},{"e":0.363,"p":0.223},{"e":0.363,"p":0.179},{"e":0.363,"p":0.14},{"e":0.363,"p":0.112},{"e":0.363,"p":0.09},{"e":0.363,"p":0.07},{"e":0.363,"p":0.056},{"e":0.363,"p":0.046},{"e":0.363,"p":0.035},{"e":0.363,"p":0.028},
{"e":0.417,"p":0.313},{"e":0.417,"p":0.252},{"e":0.417,"p":0.201},{"e":0.417,"p":0.156},{"e":0.417,"p":0.126},{"e":0.417,"p":0.101},{"e":0.417,"p":0.078},{"e":0.417,"p":0.063},{"e":0.417,"p":0.051},{"e":0.417,"p":0.04},{"e":0.417,"p":0.032},
{"e":0.479,"p":0.356},{"e":0.479,"p":0.281},{"e":0.479,"p":0.226},{"e":0.479,"p":0.177},{"e":0.479,"p":0.141},{"e":0.479,"p":0.113},{"e":0.479,"p":0.088},{"e":0.479,"p":0.071},{"e":0.479,"p":0.057},{"e":0.479,"p":0.044},{"e":0.479,"p":0.036},{"e":0.479,"p":0.028},
{"e":0.55,"p":0.316},{"e":0.55,"p":0.25},{"e":0.55,"p":0.199},{"e":0.55,"p":0.159},{"e":0.55,"p":0.125},{"e":0.55,"p":0.1},{"e":0.55,"p":0.08},{"e":0.55,"p":0.063},{"e":0.55,"p":0.05},{"e":0.55,"p":0.04},{"e":0.55,"p":0.031},{"e":0.55,"p":0.025},
{"e":0.631,"p":0.353},{"e":0.631,"p":0.284},{"e":0.631,"p":0.224},{"e":0.631,"p":0.178},{"e":0.631,"p":0.142},{"e":0.631,"p":0.111},{"e":0.631,"p":0.089},{"e":0.631,"p":0.072},{"e":0.631,"p":0.056},{"e":0.631,"p":0.045},{"e":0.631,"p":0.035},{"e":0.631,"p":0.028},
{"e":0.724,"p":0.318},{"e":0.724,"p":0.251},{"e":0.724,"p":0.2},{"e":0.724,"p":0.157},{"e":0.724,"p":0.127},{"e":0.724,"p":0.099},{"e":0.724,"p":0.079},{"e":0.724,"p":0.062},{"e":0.724,"p":0.05},{"e":0.724,"p":0.041},{"e":0.724,"p":0.032},{"e":0.724,"p":0.025},
{"e":0.832,"p":0.355},{"e":0.832,"p":0.28},{"e":0.832,"p":0.223},{"e":0.832,"p":0.179},{"e":0.832,"p":0.14},{"e":0.832,"p":0.112},{"e":0.832,"p":0.09},{"e":0.832,"p":0.071},{"e":0.832,"p":0.056},{"e":0.832,"p":0.044},{"e":0.832,"p":0.035},{"e":0.832,"p":0.028},{"e":0.832,"p":0.022},
{"e":0.955,"p":0.4},{"e":0.955,"p":0.315},{"e":0.955,"p":0.252},{"e":0.955,"p":0.199},{"e":0.955,"p":0.158},{"e":0.955,"p":0.126},{"e":0.955,"p":0.1},{"e":0.955,"p":0.08},{"e":0.955,"p":0.063},{"e":0.955,"p":0.05},{"e":0.955,"p":0.04},{"e":0.955,"p":0.032},{"e":0.955,"p":0.025},
{"e":1.1,"p":0.447},{"e":1.1,"p":0.352},{"e":1.1,"p":0.283},{"e":1.1,"p":0.225},{"e":1.1,"p":0.177},{"e":1.1,"p":0.142},{"e":1.1,"p":0.111},{"e":1.1,"p":0.089},{"e":1.1,"p":0.07},{"e":1.1,"p":0.057},{"e":1.1,"p":0.045},{"e":1.1,"p":0.035},{"e":1.1,"p":0.028},{"e":1.1,"p":0.022},
{"e":1.26,"p":0.396},{"e":1.26,"p":0.318},{"e":1.26,"p":0.25},{"e":1.26,"p":0.201},{"e":1.26,"p":0.157},{"e":1.26,"p":0.127},{"e":1.26,"p":0.099},{"e":1.26,"p":0.079},{"e":1.26,"p":0.064},{"e":1.26,"p":0.05},{"e":1.26,"p":0.04},{"e":1.26,"p":0.031},{"e":1.26,"p":0.025},{"e":1.26,"p":0.02},
{"e":1.45,"p":0.447},{"e":1.45,"p":0.356},{"e":1.45,"p":0.281},{"e":1.45,"p":0.224},{"e":1.45,"p":0.18},{"e":1.45,"p":0.141},{"e":1.45,"p":0.113},{"e":1.45,"p":0.088},{"e":1.45,"p":0.071},{"e":1.45,"p":0.056},{"e":1.45,"p":0.045},{"e":1.45,"p":0.036},{"e":1.45,"p":0.028},{"e":1.45,"p":0.022},
{"e":1.66,"p":0.399},{"e":1.66,"p":0.314},{"e":1.66,"p":0.252},{"e":1.66,"p":0.198},{"e":1.66,"p":0.159},{"e":1.66,"p":0.125},{"e":1.66,"p":0.101},{"e":1.66,"p":0.078},{"e":1.66,"p":0.063},{"e":1.66,"p":0.051},{"e":1.66,"p":0.04},{"e":1.66,"p":0.032},{"e":1.66,"p":0.025},{"e":1.66,"p":0.02},
{"e":1.91,"p":0.447},{"e":1.91,"p":0.354},{"e":1.91,"p":0.283},{"e":1.91,"p":0.222},{"e":1.91,"p":0.178},{"e":1.91,"p":0.14},{"e":1.91,"p":0.112},{"e":1.91,"p":0.09},{"e":1.91,"p":0.07},{"e":1.91,"p":0.056},{"e":1.91,"p":0.044},{"e":1.91,"p":0.035},{"e":1.91,"p":0.028},{"e":1.91,"p":0.022},{"e":1.91,"p":0.018},
{"e":2.19,"p":0.4},{"e":2.19,"p":0.316},{"e":2.19,"p":0.249},{"e":2.19,"p":0.2},{"e":2.19,"p":0.158},{"e":2.19,"p":0.126},{"e":2.19,"p":0.1},{"e":2.19,"p":0.08},{"e":2.19,"p":0.062},{"e":2.19,"p":0.05},{"e":2.19,"p":0.039},{"e":2.19,"p":0.032},{"e":2.19,"p":0.025},{"e":2.19,"p":0.02},
{"e":2.51,"p":0.447},{"e":2.51,"p":0.353},{"e":2.51,"p":0.282},{"e":2.51,"p":0.225},{"e":2.51,"p":0.177},{"e":2.51,"p":0.142},{"e":2.51,"p":0.111},{"e":2.51,"p":0.089},{"e":2.51,"p":0.071},{"e":2.51,"p":0.057},{"e":2.51,"p":0.045},{"e":2.51,"p":0.035},{"e":2.51,"p":0.028},{"e":2.51,"p":0.022},{"e":2.51,"p":0.018},
{"e":2.88,"p":0.5},{"e":2.88,"p":0.397},{"e":2.88,"p":0.317},{"e":2.88,"p":0.251},{"e":2.88,"p":0.199},{"e":2.88,"p":0.158},{"e":2.88,"p":0.127},{"e":2.88,"p":0.099},{"e":2.88,"p":0.079},{"e":2.88,"p":0.063},{"e":2.88,"p":0.05},{"e":2.88,"p":0.04},{"e":2.88,"p":0.032},{"e":2.88,"p":0.025},{"e":2.88,"p":0.02},{"e":2.88,"p":0.016},
{"e":3.31,"p":0.445},{"e":3.31,"p":0.356},{"e":3.31,"p":0.28},{"e":3.31,"p":0.224},{"e":3.31,"p":0.179},{"e":3.31,"p":0.14},{"e":3.31,"p":0.112},{"e":3.31,"p":0.089},{"e":3.31,"p":0.07},{"e":3.31,"p":0.056},{"e":3.31,"p":0.045},{"e":3.31,"p":0.036},{"e":3.31,"p":0.028},{"e":3.31,"p":0.022},{"e":3.31,"p":0.018},
{"e":3.8,"p":0.5},{"e":3.8,"p":0.4},{"e":3.8,"p":0.315},{"e":3.8,"p":0.25},{"e":3.8,"p":0.201},{"e":3.8,"p":0.157},{"e":3.8,"p":0.126},{"e":3.8,"p":0.1},{"e":3.8,"p":0.08},{"e":3.8,"p":0.063},{"e":3.8,"p":0.049},{"e":3.8,"p":0.04},{"e":3.8,"p":0.032},{"e":3.8,"p":0.025},{"e":3.8,"p":0.02},{"e":3.8,"p":0.016},
{"e":4.37,"p":0.448},{"e":4.37,"p":0.354},{"e":4.37,"p":0.283},{"e":4.37,"p":0.223},{"e":4.37,"p":0.178},{"e":4.37,"p":0.141},{"e":4.37,"p":0.113},{"e":4.37,"p":0.088},{"e":4.37,"p":0.071},{"e":4.37,"p":0.056},{"e":4.37,"p":0.044},{"e":4.37,"p":0.035},{"e":4.37,"p":0.028},{"e":4.37,"p":0.023},{"e":4.37,"p":0.018},
{"e":5.01,"p":0.5},{"e":5.01,"p":0.398},{"e":5.01,"p":0.316},{"e":5.01,"p":0.252},{"e":5.01,"p":0.2},{"e":5.01,"p":0.159},{"e":5.01,"p":0.125},{"e":5.01,"p":0.1},{"e":5.01,"p":0.079},{"e":5.01,"p":0.063},{"e":5.01,"p":0.05},{"e":5.01,"p":0.04},{"e":5.01,"p":0.031},{"e":5.01,"p":0.025},{"e":5.01,"p":0.02},
{"e":5.75,"p":0.446},{"e":5.75,"p":0.355},{"e":5.75,"p":0.281},{"e":5.75,"p":0.224},{"e":5.75,"p":0.177},{"e":5.75,"p":0.142},{"e":5.75,"p":0.112},{"e":5.75,"p":0.09},{"e":5.75,"p":0.071},{"e":5.75,"p":0.056},{"e":5.75,"p":0.045},{"e":5.75,"p":0.035},{"e":5.75,"p":0.028},{"e":5.75,"p":0.022},{"e":5.75,"p":0.018},
{"e":6.61,"p":0.5},{"e":6.61,"p":0.399},{"e":6.61,"p":0.317},{"e":6.61,"p":0.25},{"e":6.61,"p":0.199},{"e":6.61,"p":0.158},{"e":6.61,"p":0.126},{"e":6.61,"p":0.101},{"e":6.61,"p":0.08},{"e":6.61,"p":0.062},{"e":6.61,"p":0.05},{"e":6.61,"p":0.04},{"e":6.61,"p":0.032},{"e":6.61,"p":0.025},{"e":6.61,"p":0.02},
{"e":7.59,"p":0.447},{"e":7.59,"p":0.354},{"e":7.59,"p":0.282},{"e":7.59,"p":0.225},{"e":7.59,"p":0.178},{"e":7.59,"p":0.14},{"e":7.59,"p":0.112},{"e":7.59,"p":0.089},{"e":7.59,"p":0.071},{"e":7.59,"p":0.057},{"e":7.59,"p":0.045},{"e":7.59,"p":0.035},{"e":7.59,"p":0.028},{"e":7.59,"p":0.022},
{"e":8.71,"p":0.5},{"e":8.71,"p":0.4},{"e":8.71,"p":0.316},{"e":8.71,"p":0.251},{"e":8.71,"p":0.2},{"e":8.71,"p":0.157},{"e":8.71,"p":0.126},{"e":8.71,"p":0.1},{"e":8.71,"p":0.079},{"e":8.71,"p":0.063},{"e":8.71,"p":0.05},{"e":8.71,"p":0.04},{"e":8.71,"p":0.032},{"e":8.71,"p":0.025},
{"e":10.0,"p":0.446},{"e":10.0,"p":0.355},{"e":10.0,"p":0.282},{"e":10.0,"p":0.223},{"e":10.0,"p":0.178},{"e":10.0,"p":0.141},{"e":10.0,"p":0.112},{"e":10.0,"p":0.089},{"e":10.0,"p":0.07},{"e":10.0,"p":0.056},{"e":10.0,"p":0.045},{"e":10.0,"p":0.035},{"e":10.0,"p":0.028},
{"e":11.5,"p":0.5},{"e":11.5,"p":0.398},{"e":11.5,"p":0.315},{"e":11.5,"p":0.25},{"e":11.5,"p":0.2},{"e":11.5,"p":0.159},{"e":11.5,"p":0.126},{"e":11.5,"p":0.099},{"e":11.5,"p":0.079},{"e":11.5,"p":0.063},{"e":11.5,"p":0.05},{"e":11.5,"p":0.04},{"e":11.5,"p":0.032},
{"e":13.2,"p":0.447},{"e":13.2,"p":0.356},{"e":13.2,"p":0.281},{"e":13.2,"p":0.224},{"e":13.2,"p":0.177},{"e":13.2,"p":0.142},{"e":13.2,"p":0.113},{"e":13.2,"p":0.089},{"e":13.2,"p":0.071},{"e":13.2,"p":0.056},{"e":13.2,"p":0.045},{"e":13.2,"p":0.035},{"e":13.2,"p":0.028},
{"e":15.1,"p":0.5},{"e":15.1,"p":0.4},{"e":15.1,"p":0.317},{"e":15.1,"p":0.252},{"e":15.1,"p":0.199},{"e":15.1,"p":0.158},{"e":15.1,"p":0.125},{"e":15.1,"p":0.1},{"e":15.1,"p":0.08},{"e":15.1,"p":0.063},{"e":15.1,"p":0.05},{"e":15.1,"p":0.04},{"e":15.1,"p":0.032},
{"e":17.4,"p":0.445},{"e":17.4,"p":0.355},{"e":17.4,"p":0.282},{"e":17.4,"p":0.225},{"e":17.4,"p":0.178},{"e":17.4,"p":0.141},{"e":17.4,"p":0.112},{"e":17.4,"p":0.089},{"e":17.4,"p":0.071},{"e":17.4,"p":0.056},{"e":17.4,"p":0.045},{"e":17.4,"p":0.035},
{"e":20.0,"p":0.5},{"e":20.0,"p":0.397},{"e":20.0,"p":0.316},{"e":20.0,"p":0.251},{"e":20.0,"p":0.2},{"e":20.0,"p":0.158},{"e":20.0,"p":0.126},{"e":20.0,"p":0.1},{"e":20.0,"p":0.079},{"e":20.0,"p":0.063},{"e":20.0,"p":0.05},{"e":20.0,"p":0.04},
{"e":22.9,"p":0.562},{"e":22.9,"p":0.447},{"e":22.9,"p":0.354},{"e":22.9,"p":0.283},{"e":22.9,"p":0.224},{"e":22.9,"p":0.178},{"e":22.9,"p":0.14},{"e":22.9,"p":0.112},{"e":22.9,"p":0.089},{"e":22.9,"p":0.071},{"e":22.9,"p":0.056},{"e":22.9,"p":0.045},
{"e":26.3,"p":0.5},{"e":26.3,"p":0.4},{"e":26.3,"p":0.316},{"e":26.3,"p":0.25},{"e":26.3,"p":0.2},{"e":26.3,"p":0.159},{"e":26.3,"p":0.126},{"e":26.3,"p":0.1},{"e":26.3,"p":0.079},{"e":26.3,"p":0.063},{"e":26.3,"p":0.05},{"e":26.3,"p":0.04},
{"e":30.2,"p":0.562},{"e":30.2,"p":0.446},{"e":30.2,"p":0.355},{"e":30.2,"p":0.282},{"e":30.2,"p":0.224},{"e":30.2,"p":0.177},{"e":30.2,"p":0.141},{"e":30.2,"p":0.112},{"e":30.2,"p":0.089},{"e":30.2,"p":0.071},{"e":30.2,"p":0.056},{"e":30.2,"p":0.045},
{"e":34.7,"p":0.5},{"e":34.7,"p":0.398},{"e":34.7,"p":0.316},{"e":34.7,"p":0.251},{"e":34.7,"p":0.2},{"e":34.7,"p":0.158},{"e":34.7,"p":0.126},{"e":34.7,"p":0.1},{"e":34.7,"p":0.079},{"e":34.7,"p":0.063},{"e":34.7,"p":0.05},
{"e":39.8,"p":0.562},{"e":39.8,"p":0.447},{"e":39.8,"p":0.355},{"e":39.8,"p":0.282},{"e":39.8,"p":0.224},{"e":39.8,"p":0.178},{"e":39.8,"p":0.141},{"e":39.8,"p":0.112},{"e":39.8,"p":0.089},{"e":39.8,"p":0.071},{"e":39.8,"p":0.056},
{"e":45.7,"p":0.5},{"e":45.7,"p":0.4},{"e":45.7,"p":0.316},{"e":45.7,"p":0.251},{"e":45.7,"p":0.2},{"e":45.7,"p":0.158},{"e":45.7,"p":0.126},{"e":45.7,"p":0.1},{"e":45.7,"p":0.079},{"e":45.7,"p":0.063},
{"e":52.5,"p":0.562},{"e":52.5,"p":0.446},{"e":52.5,"p":0.355},{"e":52.5,"p":0.282},{"e":52.5,"p":0.224},{"e":52.5,"p":0.178},{"e":52.5,"p":0.141},{"e":52.5,"p":0.112},{"e":52.5,"p":0.089},{"e":52.5,"p":0.071},
{"e":60.3,"p":0.5},{"e":60.3,"p":0.398},{"e":60.3,"p":0.316},{"e":60.3,"p":0.251},{"e":60.3,"p":0.2},{"e":60.3,"p":0.158},{"e":60.3,"p":0.126},{"e":60.3,"p":0.1},{"e":60.3,"p":0.079},
{"e":69.2,"p":0.562},{"e":69.2,"p":0.447},{"e":69.2,"p":0.355},{"e":69.2,"p":0.282},{"e":69.2,"p":0.224},{"e":69.2,"p":0.178},{"e":69.2,"p":0.141},{"e":69.2,"p":0.112},{"e":69.2,"p":0.089},
{"e":79.4,"p":0.5},{"e":79.4,"p":0.4},{"e":79.4,"p":0.316},{"e":79.4,"p":0.251},{"e":79.4,"p":0.2},{"e":79.4,"p":0.158},{"e":79.4,"p":0.126},{"e":79.4,"p":0.1},
{"e":91.2,"p":0.562},{"e":91.2,"p":0.446},{"e":91.2,"p":0.355},{"e":91.2,"p":0.282},{"e":91.2,"p":0.224},{"e":91.2,"p":0.178},{"e":91.2,"p":0.141},{"e":91.2,"p":0.112},{"e":91.2,"p":0.089},
{"e":105,"p":0.5},{"e":105,"p":0.398},{"e":105,"p":0.316},{"e":105,"p":0.251},{"e":105,"p":0.2},{"e":105,"p":0.158},{"e":105,"p":0.126},{"e":105,"p":0.1},
{"e":120,"p":0.562},{"e":120,"p":0.447},{"e":120,"p":0.355},{"e":120,"p":0.282},{"e":120,"p":0.224},{"e":120,"p":0.178},{"e":120,"p":0.141},{"e":120,"p":0.112},
{"e":0.0119,"p":0.141},{"e":0.0119,"p":0.112},{"e":0.0119,"p":0.089},{"e":0.0119,"p":0.071},{"e":0.0119,"p":0.056},{"e":0.0119,"p":0.045},
{"e":0.0136,"p":0.158},{"e":0.0136,"p":0.126},{"e":0.0136,"p":0.1},{"e":0.0136,"p":0.079},{"e":0.0136,"p":0.063},{"e":0.0136,"p":0.05},{"e":0.0136,"p":0.04},
{"e":0.0156,"p":0.141},{"e":0.0156,"p":0.112},{"e":0.0156,"p":0.089},{"e":0.0156,"p":0.071},{"e":0.0156,"p":0.056},{"e":0.0156,"p":0.045},
{"e":0.0179,"p":0.158},{"e":0.0179,"p":0.126},{"e":0.0179,"p":0.1},{"e":0.0179,"p":0.079},{"e":0.0179,"p":0.063},{"e":0.0179,"p":0.05},{"e":0.0179,"p":0.04},
{"e":0.0206,"p":0.178},{"e":0.0206,"p":0.141},{"e":0.0206,"p":0.112},{"e":0.0206,"p":0.089},{"e":0.0206,"p":0.071},{"e":0.0206,"p":0.056},{"e":0.0206,"p":0.045},
{"e":0.0236,"p":0.2},{"e":0.0236,"p":0.158},{"e":0.0236,"p":0.126},{"e":0.0236,"p":0.1},{"e":0.0236,"p":0.079},{"e":0.0236,"p":0.063},{"e":0.0236,"p":0.05},{"e":0.0236,"p":0.04},
{"e":0.0271,"p":0.178},{"e":0.0271,"p":0.141},{"e":0.0271,"p":0.112},{"e":0.0271,"p":0.089},{"e":0.0271,"p":0.071},{"e":0.0271,"p":0.056},{"e":0.0271,"p":0.045},{"e":0.0271,"p":0.035},
{"e":0.0311,"p":0.2},{"e":0.0311,"p":0.158},{"e":0.0311,"p":0.126},{"e":0.0311,"p":0.1},{"e":0.0311,"p":0.079},{"e":0.0311,"p":0.063},{"e":0.0311,"p":0.05},{"e":0.0311,"p":0.04},
{"e":0.0357,"p":0.224},{"e":0.0357,"p":0.178},{"e":0.0357,"p":0.141},{"e":0.0357,"p":0.112},{"e":0.0357,"p":0.089},{"e":0.0357,"p":0.071},{"e":0.0357,"p":0.056},{"e":0.0357,"p":0.045},{"e":0.0357,"p":0.035},
{"e":0.041,"p":0.251},{"e":0.041,"p":0.2},{"e":0.041,"p":0.158},{"e":0.041,"p":0.126},{"e":0.041,"p":0.1},{"e":0.041,"p":0.079},{"e":0.041,"p":0.063},{"e":0.041,"p":0.05},{"e":0.041,"p":0.04},
{"e":0.0471,"p":0.224},{"e":0.0471,"p":0.178},{"e":0.0471,"p":0.141},{"e":0.0471,"p":0.112},{"e":0.0471,"p":0.089},{"e":0.0471,"p":0.071},{"e":0.0471,"p":0.056},{"e":0.0471,"p":0.045},{"e":0.0471,"p":0.035},
{"e":0.0541,"p":0.251},{"e":0.0541,"p":0.2},{"e":0.0541,"p":0.158},{"e":0.0541,"p":0.126},{"e":0.0541,"p":0.1},{"e":0.0541,"p":0.079},{"e":0.0541,"p":0.063},{"e":0.0541,"p":0.05},{"e":0.0541,"p":0.04},
{"e":0.0621,"p":0.282},{"e":0.0621,"p":0.224},{"e":0.0621,"p":0.178},{"e":0.0621,"p":0.141},{"e":0.0621,"p":0.112},{"e":0.0621,"p":0.089},{"e":0.0621,"p":0.071},{"e":0.0621,"p":0.056},{"e":0.0621,"p":0.045},{"e":0.0621,"p":0.035},
{"e":0.0713,"p":0.251},{"e":0.0713,"p":0.2},{"e":0.0713,"p":0.158},{"e":0.0713,"p":0.126},{"e":0.0713,"p":0.1},{"e":0.0713,"p":0.079},{"e":0.0713,"p":0.063},{"e":0.0713,"p":0.05},{"e":0.0713,"p":0.04},
{"e":0.0818,"p":0.282},{"e":0.0818,"p":0.224},{"e":0.0818,"p":0.178},{"e":0.0818,"p":0.141},{"e":0.0818,"p":0.112},{"e":0.0818,"p":0.089},{"e":0.0818,"p":0.071},{"e":0.0818,"p":0.056},{"e":0.0818,"p":0.045},{"e":0.0818,"p":0.035},
{"e":0.0939,"p":0.316},{"e":0.0939,"p":0.251},{"e":0.0939,"p":0.2},{"e":0.0939,"p":0.158},{"e":0.0939,"p":0.126},{"e":0.0939,"p":0.1},{"e":0.0939,"p":0.079},{"e":0.0939,"p":0.063},{"e":0.0939,"p":0.05},{"e":0.0939,"p":0.04},
{"e":0.108,"p":0.282},{"e":0.108,"p":0.224},{"e":0.108,"p":0.178},{"e":0.108,"p":0.141},{"e":0.108,"p":0.112},{"e":0.108,"p":0.089},{"e":0.108,"p":0.071},{"e":0.108,"p":0.056},{"e":0.108,"p":0.045},{"e":0.108,"p":0.035},
{"e":0.124,"p":0.316},{"e":0.124,"p":0.251},{"e":0.124,"p":0.2},{"e":0.124,"p":0.158},{"e":0.124,"p":0.126},{"e":0.124,"p":0.1},{"e":0.124,"p":0.079},{"e":0.124,"p":0.063},{"e":0.124,"p":0.05},{"e":0.124,"p":0.04},
{"e":0.142,"p":0.282},{"e":0.142,"p":0.224},{"e":0.142,"p":0.178},{"e":0.142,"p":0.141},{"e":0.142,"p":0.112},{"e":0.142,"p":0.089},{"e":0.142,"p":0.071},{"e":0.142,"p":0.056},{"e":0.142,"p":0.045},{"e":0.142,"p":0.035},
{"e":0.163,"p":0.316},{"e":0.163,"p":0.251},{"e":0.163,"p":0.2},{"e":0.163,"p":0.158},{"e":0.163,"p":0.126},{"e":0.163,"p":0.1},{"e":0.163,"p":0.079},{"e":0.163,"p":0.063},{"e":0.163,"p":0.05},{"e":0.163,"p":0.04},{"e":0.163,"p":0.032},
{"e":0.187,"p":0.355},{"e":0.187,"p":0.282},{"e":0.187,"p":0.224},{"e":0.187,"p":0.178},{"e":0.187,"p":0.141},{"e":0.187,"p":0.112},{"e":0.187,"p":0.089},{"e":0.187,"p":0.071},{"e":0.187,"p":0.056},{"e":0.187,"p":0.045},{"e":0.187,"p":0.035},
{"e":0.215,"p":0.316},{"e":0.215,"p":0.251},{"e":0.215,"p":0.2},{"e":0.215,"p":0.158},{"e":0.215,"p":0.126},{"e":0.215,"p":0.1},{"e":0.215,"p":0.079},{"e":0.215,"p":0.063},{"e":0.215,"p":0.05},{"e":0.215,"p":0.04},{"e":0.215,"p":0.032},
{"e":0.247,"p":0.355},{"e":0.247,"p":0.282},{"e":0.247,"p":0.224},{"e":0.247,"p":0.178},{"e":0.247,"p":0.141},{"e":0.247,"p":0.112},{"e":0.247,"p":0.089},{"e":0.247,"p":0.071},{"e":0.247,"p":0.056},{"e":0.247,"p":0.045},{"e":0.247,"p":0.035},
{"e":0.283,"p":0.316},{"e":0.283,"p":0.251},{"e":0.283,"p":0.2},{"e":0.283,"p":0.158},{"e":0.283,"p":0.126},{"e":0.283,"p":0.1},{"e":0.283,"p":0.079},{"e":0.283,"p":0.063},{"e":0.283,"p":0.05},{"e":0.283,"p":0.04},{"e":0.283,"p":0.032},
{"e":0.325,"p":0.355},{"e":0.325,"p":0.282},{"e":0.325,"p":0.224},{"e":0.325,"p":0.178},{"e":0.325,"p":0.141},{"e":0.325,"p":0.112},{"e":0.325,"p":0.089},{"e":0.325,"p":0.071},{"e":0.325,"p":0.056},{"e":0.325,"p":0.045},{"e":0.325,"p":0.035},{"e":0.325,"p":0.028},
{"e":0.374,"p":0.316},{"e":0.374,"p":0.251},{"e":0.374,"p":0.2},{"e":0.374,"p":0.158},{"e":0.374,"p":0.126},{"e":0.374,"p":0.1},{"e":0.374,"p":0.079},{"e":0.374,"p":0.063},{"e":0.374,"p":0.05},{"e":0.374,"p":0.04},{"e":0.374,"p":0.032},
{"e":0.43,"p":0.355},{"e":0.43,"p":0.282},{"e":0.43,"p":0.224},{"e":0.43,"p":0.178},{"e":0.43,"p":0.141},{"e":0.43,"p":0.112},{"e":0.43,"p":0.089},{"e":0.43,"p":0.071},{"e":0.43,"p":0.056},{"e":0.43,"p":0.045},{"e":0.43,"p":0.035},{"e":0.43,"p":0.028},
{"e":0.493,"p":0.316},{"e":0.493,"p":0.251},{"e":0.493,"p":0.2},{"e":0.493,"p":0.158},{"e":0.493,"p":0.126},{"e":0.493,"p":0.1},{"e":0.493,"p":0.079},{"e":0.493,"p":0.063},{"e":0.493,"p":0.05},{"e":0.493,"p":0.04},{"e":0.493,"p":0.032},{"e":0.493,"p":0.025},
{"e":0.567,"p":0.355},{"e":0.567,"p":0.282},{"e":0.567,"p":0.224},{"e":0.567,"p":0.178},{"e":0.567,"p":0.141},{"e":0.567,"p":0.112},{"e":0.567,"p":0.089},{"e":0.567,"p":0.071},{"e":0.567,"p":0.056},{"e":0.567,"p":0.045},{"e":0.567,"p":0.035},{"e":0.567,"p":0.028},
{"e":0.65,"p":0.398},{"e":0.65,"p":0.316},{"e":0.65,"p":0.251},{"e":0.65,"p":0.2},{"e":0.65,"p":0.158},{"e":0.65,"p":0.126},{"e":0.65,"p":0.1},{"e":0.65,"p":0.079},{"e":0.65,"p":0.063},{"e":0.65,"p":0.05},{"e":0.65,"p":0.04},{"e":0.65,"p":0.032},{"e":0.65,"p":0.025},
{"e":0.746,"p":0.355},{"e":0.746,"p":0.282},{"e":0.746,"p":0.224},{"e":0.746,"p":0.178},{"e":0.746,"p":0.141},{"e":0.746,"p":0.112},{"e":0.746,"p":0.089},{"e":0.746,"p":0.071},{"e":0.746,"p":0.056},{"e":0.746,"p":0.045},{"e":0.746,"p":0.035},{"e":0.746,"p":0.028},
{"e":0.857,"p":0.398},{"e":0.857,"p":0.316},{"e":0.857,"p":0.251},{"e":0.857,"p":0.2},{"e":0.857,"p":0.158},{"e":0.857,"p":0.126},{"e":0.857,"p":0.1},{"e":0.857,"p":0.079},{"e":0.857,"p":0.063},{"e":0.857,"p":0.05},{"e":0.857,"p":0.04},{"e":0.857,"p":0.032},{"e":0.857,"p":0.025},
{"e":0.984,"p":0.355},{"e":0.984,"p":0.282},{"e":0.984,"p":0.224},{"e":0.984,"p":0.178},{"e":0.984,"p":0.141},{"e":0.984,"p":0.112},{"e":0.984,"p":0.089},{"e":0.984,"p":0.071},{"e":0.984,"p":0.056},{"e":0.984,"p":0.045},{"e":0.984,"p":0.035},{"e":0.984,"p":0.028},{"e":0.984,"p":0.022},
{"e":1.13,"p":0.398},{"e":1.13,"p":0.316},{"e":1.13,"p":0.251},{"e":1.13,"p":0.2},{"e":1.13,"p":0.158},{"e":1.13,"p":0.126},{"e":1.13,"p":0.1},{"e":1.13,"p":0.079},{"e":1.13,"p":0.063},{"e":1.13,"p":0.05},{"e":1.13,"p":0.04},{"e":1.13,"p":0.032},{"e":1.13,"p":0.025},
{"e":1.3,"p":0.447},{"e":1.3,"p":0.355},{"e":1.3,"p":0.282},{"e":1.3,"p":0.224},{"e":1.3,"p":0.178},{"e":1.3,"p":0.141},{"e":1.3,"p":0.112},{"e":1.3,"p":0.089},{"e":1.3,"p":0.071},{"e":1.3,"p":0.056},{"e":1.3,"p":0.045},{"e":1.3,"p":0.035},{"e":1.3,"p":0.028},{"e":1.3,"p":0.022},
{"e":1.49,"p":0.398},{"e":1.49,"p":0.316},{"e":1.49,"p":0.251},{"e":1.49,"p":0.2},{"e":1.49,"p":0.158},{"e":1.49,"p":0.126},{"e":1.49,"p":0.1},{"e":1.49,"p":0.079},{"e":1.49,"p":0.063},{"e":1.49,"p":0.05},{"e":1.49,"p":0.04},{"e":1.49,"p":0.032},{"e":1.49,"p":0.025},{"e":1.49,"p":0.02},
{"e":1.71,"p":0.447},{"e":1.71,"p":0.355},{"e":1.71,"p":0.282},{"e":1.71,"p":0.224},{"e":1.71,"p":0.178},{"e":1.71,"p":0.141},{"e":1.71,"p":0.112},{"e":1.71,"p":0.089},{"e":1.71,"p":0.071},{"e":1.71,"p":0.056},{"e":1.71,"p":0.045},{"e":1.71,"p":0.035},{"e":1.71,"p":0.028},{"e":1.71,"p":0.022},
{"e":1.97,"p":0.398},{"e":1.97,"p":0.316},{"e":1.97,"p":0.251},{"e":1.97,"p":0.2},{"e":1.97,"p":0.158},{"e":1.97,"p":0.126},{"e":1.97,"p":0.1},{"e":1.97,"p":0.079},{"e":1.97,"p":0.063},{"e":1.97,"p":0.05},{"e":1.97,"p":0.04},{"e":1.97,"p":0.032},{"e":1.97,"p":0.025},{"e":1.97,"p":0.02},
{"e":2.26,"p":0.447},{"e":2.26,"p":0.355},{"e":2.26,"p":0.282},{"e":2.26,"p":0.224},{"e":2.26,"p":0.178},{"e":2.26,"p":0.141},{"e":2.26,"p":0.112},{"e":2.26,"p":0.089},{"e":2.26,"p":0.071},{"e":2.26,"p":0.056},{"e":2.26,"p":0.045},{"e":2.26,"p":0.035},{"e":2.26,"p":0.028},{"e":2.26,"p":0.022},{"e":2.26,"p":0.018},
{"e":2.59,"p":0.501},{"e":2.59,"p":0.398},{"e":2.59,"p":0.316},{"e":2.59,"p":0.251},{"e":2.59,"p":0.2},{"e":2.59,"p":0.158},{"e":2.59,"p":0.126},{"e":2.59,"p":0.1},{"e":2.59,"p":0.079},{"e":2.59,"p":0.063},{"e":2.59,"p":0.05},{"e":2.59,"p":0.04},{"e":2.59,"p":0.032},{"e":2.59,"p":0.025},{"e":2.59,"p":0.02},
{"e":2.97,"p":0.447},{"e":2.97,"p":0.355},{"e":2.97,"p":0.282},{"e":2.97,"p":0.224},{"e":2.97,"p":0.178},{"e":2.97,"p":0.141},{"e":2.97,"p":0.112},{"e":2.97,"p":0.089},{"e":2.97,"p":0.071},{"e":2.97,"p":0.056},{"e":2.97,"p":0.045},{"e":2.97,"p":0.035},{"e":2.97,"p":0.028},{"e":2.97,"p":0.022},{"e":2.97,"p":0.018},
{"e":3.41,"p":0.501},{"e":3.41,"p":0.398},{"e":3.41,"p":0.316},{"e":3.41,"p":0.251},{"e":3.41,"p":0.2},{"e":3.41,"p":0.158},{"e":3.41,"p":0.126},{"e":3.41,"p":0.1},{"e":3.41,"p":0.079},{"e":3.41,"p":0.063},{"e":3.41,"p":0.05},{"e":3.41,"p":0.04},{"e":3.41,"p":0.032},{"e":3.41,"p":0.025},{"e":3.41,"p":0.02},{"e":3.41,"p":0.016},
{"e":3.91,"p":0.447},{"e":3.91,"p":0.355},{"e":3.91,"p":0.282},{"e":3.91,"p":0.224},{"e":3.91,"p":0.178},{"e":3.91,"p":0.141},{"e":3.91,"p":0.112},{"e":3.91,"p":0.089},{"e":3.91,"p":0.071},{"e":3.91,"p":0.056},{"e":3.91,"p":0.045},{"e":3.91,"p":0.035},{"e":3.91,"p":0.028},{"e":3.91,"p":0.022},{"e":3.91,"p":0.018},
{"e":4.5,"p":0.501},{"e":4.5,"p":0.398},{"e":4.5,"p":0.316},{"e":4.5,"p":0.251},{"e":4.5,"p":0.2},{"e":4.5,"p":0.158},{"e":4.5,"p":0.126},{"e":4.5,"p":0.1},{"e":4.5,"p":0.079},{"e":4.5,"p":0.063},{"e":4.5,"p":0.05},{"e":4.5,"p":0.04},{"e":4.5,"p":0.032},{"e":4.5,"p":0.025},{"e":4.5,"p":0.02},
{"e":5.16,"p":0.447},{"e":5.16,"p":0.355},{"e":5.16,"p":0.282},{"e":5.16,"p":0.224},{"e":5.16,"p":0.178},{"e":5.16,"p":0.141},{"e":5.16,"p":0.112},{"e":5.16,"p":0.089},{"e":5.16,"p":0.071},{"e":5.16,"p":0.056},{"e":5.16,"p":0.045},{"e":5.16,"p":0.035},{"e":5.16,"p":0.028},{"e":5.16,"p":0.022},{"e":5.16,"p":0.018},
{"e":5.92,"p":0.501},{"e":5.92,"p":0.398},{"e":5.92,"p":0.316},{"e":5.92,"p":0.251},{"e":5.92,"p":0.2},{"e":5.92,"p":0.158},{"e":5.92,"p":0.126},{"e":5.92,"p":0.1},{"e":5.92,"p":0.079},{"e":5.92,"p":0.063},{"e":5.92,"p":0.05},{"e":5.92,"p":0.04},{"e":5.92,"p":0.032},{"e":5.92,"p":0.025},{"e":5.92,"p":0.02},
{"e":6.81,"p":0.447},{"e":6.81,"p":0.355},{"e":6.81,"p":0.282},{"e":6.81,"p":0.224},{"e":6.81,"p":0.178},{"e":6.81,"p":0.141},{"e":6.81,"p":0.112},{"e":6.81,"p":0.089},{"e":6.81,"p":0.071},{"e":6.81,"p":0.056},{"e":6.81,"p":0.045},{"e":6.81,"p":0.035},{"e":6.81,"p":0.028},{"e":6.81,"p":0.022},
{"e":7.82,"p":0.501},{"e":7.82,"p":0.398},{"e":7.82,"p":0.316},{"e":7.82,"p":0.251},{"e":7.82,"p":0.2},{"e":7.82,"p":0.158},{"e":7.82,"p":0.126},{"e":7.82,"p":0.1},{"e":7.82,"p":0.079},{"e":7.82,"p":0.063},{"e":7.82,"p":0.05},{"e":7.82,"p":0.04},{"e":7.82,"p":0.032},{"e":7.82,"p":0.025},
{"e":8.97,"p":0.447},{"e":8.97,"p":0.355},{"e":8.97,"p":0.282},{"e":8.97,"p":0.224},{"e":8.97,"p":0.178},{"e":8.97,"p":0.141},{"e":8.97,"p":0.112},{"e":8.97,"p":0.089},{"e":8.97,"p":0.071},{"e":8.97,"p":0.056},{"e":8.97,"p":0.045},{"e":8.97,"p":0.035},{"e":8.97,"p":0.028},
{"e":10.3,"p":0.501},{"e":10.3,"p":0.398},{"e":10.3,"p":0.316},{"e":10.3,"p":0.251},{"e":10.3,"p":0.2},{"e":10.3,"p":0.158},{"e":10.3,"p":0.126},{"e":10.3,"p":0.1},{"e":10.3,"p":0.079},{"e":10.3,"p":0.063},{"e":10.3,"p":0.05},{"e":10.3,"p":0.04},{"e":10.3,"p":0.032},
{"e":11.8,"p":0.447},{"e":11.8,"p":0.355},{"e":11.8,"p":0.282},{"e":11.8,"p":0.224},{"e":11.8,"p":0.178},{"e":11.8,"p":0.141},{"e":11.8,"p":0.112},{"e":11.8,"p":0.089},{"e":11.8,"p":0.071},{"e":11.8,"p":0.056},{"e":11.8,"p":0.045},{"e":11.8,"p":0.035},{"e":11.8,"p":0.028},
{"e":13.6,"p":0.501},{"e":13.6,"p":0.398},{"e":13.6,"p":0.316},{"e":13.6,"p":0.251},{"e":13.6,"p":0.2},{"e":13.6,"p":0.158},{"e":13.6,"p":0.126},{"e":13.6,"p":0.1},{"e":13.6,"p":0.079},{"e":13.6,"p":0.063},{"e":13.6,"p":0.05},{"e":13.6,"p":0.04},{"e":13.6,"p":0.032},
{"e":15.6,"p":0.447},{"e":15.6,"p":0.355},{"e":15.6,"p":0.282},{"e":15.6,"p":0.224},{"e":15.6,"p":0.178},{"e":15.6,"p":0.141},{"e":15.6,"p":0.112},{"e":15.6,"p":0.089},{"e":15.6,"p":0.071},{"e":15.6,"p":0.056},{"e":15.6,"p":0.045},{"e":15.6,"p":0.035},
{"e":17.9,"p":0.501},{"e":17.9,"p":0.398},{"e":17.9,"p":0.316},{"e":17.9,"p":0.251},{"e":17.9,"p":0.2},{"e":17.9,"p":0.158},{"e":17.9,"p":0.126},{"e":17.9,"p":0.1},{"e":17.9,"p":0.079},{"e":17.9,"p":0.063},{"e":17.9,"p":0.05},{"e":17.9,"p":0.04},
{"e":20.6,"p":0.447},{"e":20.6,"p":0.355},{"e":20.6,"p":0.282},{"e":20.6,"p":0.224},{"e":20.6,"p":0.178},{"e":20.6,"p":0.141},{"e":20.6,"p":0.112},{"e":20.6,"p":0.089},{"e":20.6,"p":0.071},{"e":20.6,"p":0.056},{"e":20.6,"p":0.045},
{"e":23.6,"p":0.501},{"e":23.6,"p":0.398},{"e":23.6,"p":0.316},{"e":23.6,"p":0.251},{"e":23.6,"p":0.2},{"e":23.6,"p":0.158},{"e":23.6,"p":0.126},{"e":23.6,"p":0.1},{"e":23.6,"p":0.079},{"e":23.6,"p":0.063},{"e":23.6,"p":0.05},
{"e":27.1,"p":0.562},{"e":27.1,"p":0.447},{"e":27.1,"p":0.355},{"e":27.1,"p":0.282},{"e":27.1,"p":0.224},{"e":27.1,"p":0.178},{"e":27.1,"p":0.141},{"e":27.1,"p":0.112},{"e":27.1,"p":0.089},{"e":27.1,"p":0.071},{"e":27.1,"p":0.056},{"e":27.1,"p":0.045},
{"e":31.1,"p":0.501},{"e":31.1,"p":0.398},{"e":31.1,"p":0.316},{"e":31.1,"p":0.251},{"e":31.1,"p":0.2},{"e":31.1,"p":0.158},{"e":31.1,"p":0.126},{"e":31.1,"p":0.1},{"e":31.1,"p":0.079},{"e":31.1,"p":0.063},{"e":31.1,"p":0.05},
{"e":35.7,"p":0.562},{"e":35.7,"p":0.447},{"e":35.7,"p":0.355},{"e":35.7,"p":0.282},{"e":35.7,"p":0.224},{"e":35.7,"p":0.178},{"e":35.7,"p":0.141},{"e":35.7,"p":0.112},{"e":35.7,"p":0.089},{"e":35.7,"p":0.071},{"e":35.7,"p":0.056},
{"e":41,"p":0.501},{"e":41,"p":0.398},{"e":41,"p":0.316},{"e":41,"p":0.251},{"e":41,"p":0.2},{"e":41,"p":0.158},{"e":41,"p":0.126},{"e":41,"p":0.1},{"e":41,"p":0.079},{"e":41,"p":0.063},
{"e":47.1,"p":0.562},{"e":47.1,"p":0.447},{"e":47.1,"p":0.355},{"e":47.1,"p":0.282},{"e":47.1,"p":0.224},{"e":47.1,"p":0.178},{"e":47.1,"p":0.141},{"e":47.1,"p":0.112},{"e":47.1,"p":0.089},{"e":47.1,"p":0.071},
{"e":54.1,"p":0.501},{"e":54.1,"p":0.398},{"e":54.1,"p":0.316},{"e":54.1,"p":0.251},{"e":54.1,"p":0.2},{"e":54.1,"p":0.158},{"e":54.1,"p":0.126},{"e":54.1,"p":0.1},{"e":54.1,"p":0.079},
{"e":62.1,"p":0.562},{"e":62.1,"p":0.447},{"e":62.1,"p":0.355},{"e":62.1,"p":0.282},{"e":62.1,"p":0.224},{"e":62.1,"p":0.178},{"e":62.1,"p":0.141},{"e":62.1,"p":0.112},{"e":62.1,"p":0.089},
{"e":71.3,"p":0.501},{"e":71.3,"p":0.398},{"e":71.3,"p":0.316},{"e":71.3,"p":0.251},{"e":71.3,"p":0.2},{"e":71.3,"p":0.158},{"e":71.3,"p":0.126},{"e":71.3,"p":0.1},
{"e":81.8,"p":0.562},{"e":81.8,"p":0.447},{"e":81.8,"p":0.355},{"e":81.8,"p":0.282},{"e":81.8,"p":0.224},{"e":81.8,"p":0.178},{"e":81.8,"p":0.141},{"e":81.8,"p":0.112},
{"e":93.9,"p":0.501},{"e":93.9,"p":0.398},{"e":93.9,"p":0.316},{"e":93.9,"p":0.251},{"e":93.9,"p":0.2},{"e":93.9,"p":0.158},{"e":93.9,"p":0.126},{"e":93.9,"p":0.1},
{"e":108,"p":0.562},{"e":108,"p":0.447},{"e":108,"p":0.355},{"e":108,"p":0.282},{"e":108,"p":0.224},{"e":108,"p":0.178},{"e":108,"p":0.141},{"e":108,"p":0.112},
{"e":124,"p":0.501},{"e":124,"p":0.398},{"e":124,"p":0.316},{"e":124,"p":0.251},{"e":124,"p":0.2},{"e":124,"p":0.158},{"e":124,"p":0.126}
],
"burst": [
{"e":52.7,"p":0.223},{"e":56.9,"p":0.154},{"e":93,"p":0.174},{"e":88,"p":0.124},{"e":131,"p":0.411},{"e":180,"p":0.466},{"e":167,"p":0.302},{"e":133,"p":0.248},{"e":180,"p":0.194},{"e":334,"p":0.24},{"e":469,"p":0.288},{"e":547,"p":0.457},{"e":604,"p":0.398},{"e":760,"p":0.425},{"e":1104,"p":0.425},{"e":1302,"p":0.342},{"e":1770,"p":0.783},{"e":1770,"p":0.586},{"e":1870,"p":0.525},{"e":2333,"p":0.622},{"e":2900,"p":0.809},{"e":28200,"p":1.096}
]
},
"encoding": {
"x": {"field": "e", "type": "quantitative",
 "scale": {"type": "log", "domain": [0.01, 100000], "nice": false},
 "axis": {"title": "Seismic energy (kJ)", "titleFont": "Liberation Serif", "titleFontWeight": "bold", "titleFontSize": 14, "titleColor": "black", "titleX": 239, "titleY": 45, "titleAlign": "center", "titleBaseline": "alphabetic",
  "values": [0.01,0.02,0.03,0.04,0.05,0.06,0.07,0.08,0.09,0.1,0.2,0.3,0.4,0.5,0.6,0.7,0.8,0.9,1,2,3,4,5,6,7,8,9,10,20,30,40,50,60,70,80,90,100,200,300,400,500,600,700,800,900,1000,2000,3000,4000,5000,6000,7000,8000,9000,10000,20000,30000,40000,50000,60000,70000,80000,90000,100000],
  "labelExpr": "abs(log(datum.value)/LN10 - round(log(datum.value)/LN10)) < 0.01 ? '10' + replace(replace(replace(replace(replace(replace(replace('' + round(log(datum.value)/LN10), '-', '⁻'), '0', '⁰'), '1', '¹'), '2', '²'), '3', '³'), '4', '⁴'), '5', '⁵') : ''",
  "labelFont": "Liberation Serif", "labelFontSize": 17, "labelColor": "black", "labelBaseline": "alphabetic", "labelPadding": 32, "labelFlush": false, "labelOverlap": false,
  "tickColor": "black", "tickWidth": 1,
  "tickSize": {"condition": {"test": "abs(log(datum.value)/LN10 - round(log(datum.value)/LN10)) < 0.01", "value": -6}, "value": -3},
  "domainColor": "black", "domainWidth": 1, "grid": false}},
"y": {"field": "p", "type": "quantitative",
 "scale": {"type": "log", "domain": [0.0001, 10], "nice": false},
 "axis": {"title": null,
  "values": [0.0001,0.0002,0.0003,0.0004,0.0005,0.0006,0.0007,0.0008,0.0009,0.001,0.002,0.003,0.004,0.005,0.006,0.007,0.008,0.009,0.01,0.02,0.03,0.04,0.05,0.06,0.07,0.08,0.09,0.1,0.2,0.3,0.4,0.5,0.6,0.7,0.8,0.9,1,2,3,4,5,6,7,8,9,10],
  "labelExpr": "abs(log(datum.value)/LN10 - round(log(datum.value)/LN10)) < 0.01 ? '10' + replace(replace(replace(replace(replace(replace(replace('' + round(log(datum.value)/LN10), '-', '⁻'), '0', '⁰'), '1', '¹'), '2', '²'), '3', '³'), '4', '⁴'), '5', '⁵') : ''",
  "labelFont": "Liberation Serif", "labelFontSize": 17, "labelColor": "black", "labelPadding": 12, "labelFlush": false, "labelOverlap": false,
  "tickColor": "black", "tickWidth": 1,
  "tickSize": {"condition": {"test": "abs(log(datum.value)/LN10 - round(log(datum.value)/LN10)) < 0.01", "value": -6}, "value": -3},
  "domainColor": "black", "domainWidth": 1, "grid": false}}
},
"layer": [
{"data": {"name": "core"},
 "mark": {"type": "point", "shape": "circle", "filled": false, "size": 16, "strokeWidth": 1.9, "opacity": 1},
 "encoding": {"stroke": {"datum": "Seismic event", "type": "nominal",
   "scale": {"domain": ["Seismic event"], "range": ["#00a79d"]},
   "legend": {"orient": "none", "legendX": 340, "legendY": 195, "title": null, "padding": 0,
     "labelFont": "Liberation Serif", "labelFontSize": 17, "labelColor": "black", "labelOffset": -2,
     "symbolType": "circle", "symbolSize": 60, "symbolStrokeWidth": 1.3, "symbolFillColor": "transparent"}}}},
{"data": {"name": "seis"},
 "mark": {"type": "point", "shape": "circle", "filled": false, "size": 16, "strokeWidth": 1, "opacity": 1},
 "encoding": {"stroke": {"datum": "Seismic event", "type": "nominal"}}},
{"data": {"values": [{"e": 0.01, "p": 0.0237}, {"e": 5420, "p": 0.568}]},
 "mark": {"type": "line", "color": "black", "strokeWidth": 2},
 "encoding": {}},
{"data": {"name": "burst"},
 "mark": {"type": "point", "shape": "circle", "filled": true, "size": 72, "stroke": "black", "strokeWidth": 1, "opacity": 1},
 "encoding": {"fill": {"datum": "Coal burst event", "type": "nominal",
   "scale": {"domain": ["Coal burst event"], "range": ["#ff0000"]},
   "legend": {"orient": "none", "legendX": 340, "legendY": 219, "title": null, "padding": 0,
     "labelFont": "Liberation Serif", "labelFontSize": 17, "labelColor": "black", "labelOffset": -2,
     "symbolType": "circle", "symbolSize": 60, "symbolStrokeColor": "#ff0000", "symbolStrokeWidth": 0}}}},
{"data": {"values": [{"e": 102.8, "p": 3.75, "s": "lg("}]},
 "mark": {"type": "text", "font": "Liberation Serif", "fontSize": 17, "align": "left", "baseline": "alphabetic", "color": "black"},
 "encoding": {"text": {"field": "s"}}},
{"data": {"values": [{"e": 102.8, "p": 3.75, "s": "ppvR)=-1.86+0.24*lg(Es)"}]},
 "mark": {"type": "text", "font": "Liberation Serif", "fontSize": 17, "fontStyle": "italic", "align": "left", "baseline": "alphabetic", "dx": 19, "color": "black"},
 "encoding": {"text": {"field": "s"}}},
{"data": {"values": [{"e": 0.00176, "p": 0.0136, "s": "ppvR"}]},
 "mark": {"type": "text", "font": "Liberation Serif", "fontSize": 15, "fontStyle": "italic", "fontWeight": "bold", "angle": 270, "align": "left", "baseline": "middle", "color": "black"},
 "encoding": {"text": {"field": "s"}}},
{"data": {"values": [{"e": 0.00176, "p": 0.064, "s": "(m-m/s)"}]},
 "mark": {"type": "text", "font": "Liberation Serif", "fontSize": 15, "angle": 270, "align": "left", "baseline": "middle", "color": "black"},
 "encoding": {"text": {"field": "s"}}}
]
}
